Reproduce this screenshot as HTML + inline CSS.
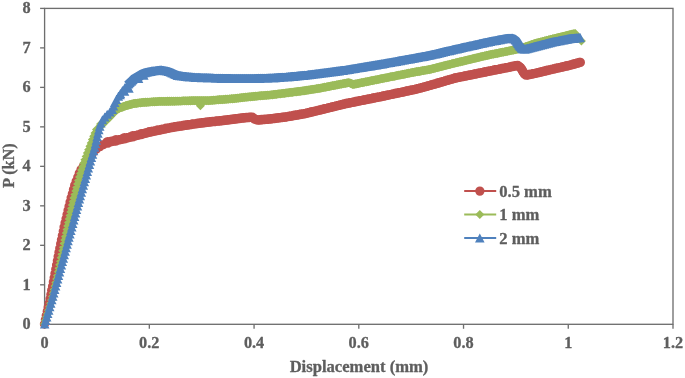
<!DOCTYPE html>
<html><head><meta charset="utf-8"><title>Chart</title>
<style>html,body{margin:0;padding:0;background:#fff;}body{width:685px;height:378px;overflow:hidden;font-family:"Liberation Serif",serif;}svg{display:block;will-change:transform;}</style>
</head><body>
<svg width="685" height="378" viewBox="0 0 685 378">
<rect width="685" height="378" fill="#fff"/>
<g stroke="#6e6e6e" stroke-width="1.33" fill="none">
<rect x="44.6" y="8.4" width="628.4" height="315.90000000000003"/>
<line x1="40.1" y1="324.30" x2="44.6" y2="324.30"/>
<line x1="40.1" y1="284.81" x2="44.6" y2="284.81"/>
<line x1="40.1" y1="245.32" x2="44.6" y2="245.32"/>
<line x1="40.1" y1="205.84" x2="44.6" y2="205.84"/>
<line x1="40.1" y1="166.35" x2="44.6" y2="166.35"/>
<line x1="40.1" y1="126.86" x2="44.6" y2="126.86"/>
<line x1="40.1" y1="87.38" x2="44.6" y2="87.38"/>
<line x1="40.1" y1="47.89" x2="44.6" y2="47.89"/>
<line x1="40.1" y1="8.40" x2="44.6" y2="8.40"/>
<line x1="44.60" y1="324.3" x2="44.60" y2="328.8"/>
<line x1="149.33" y1="324.3" x2="149.33" y2="328.8"/>
<line x1="254.07" y1="324.3" x2="254.07" y2="328.8"/>
<line x1="358.80" y1="324.3" x2="358.80" y2="328.8"/>
<line x1="463.53" y1="324.3" x2="463.53" y2="328.8"/>
<line x1="568.27" y1="324.3" x2="568.27" y2="328.8"/>
<line x1="673.00" y1="324.3" x2="673.00" y2="328.8"/>
</g>
<polyline points="44.4,324.0 49.8,300.0 54.7,275.0 59.4,250.0 64.5,225.0 70.5,200.0 74.8,185.0 80.6,170.0 88.0,160.0 92.5,153.0 96.5,149.0 100.5,146.3 105.0,143.5 110.0,141.8 120.0,139.6 130.6,137.0 140.0,134.6 150.0,132.0 160.0,129.9 170.0,127.8 180.0,126.1 192.5,124.2 210.0,121.9 227.6,120.0 245.0,117.7 252.0,117.1 255.0,119.3 257.8,120.0 270.0,119.0 287.5,116.7 305.0,113.6 320.0,110.0 345.0,103.8 380.0,96.8 415.0,89.4 430.0,85.4 455.0,78.1 490.0,71.0 507.6,67.5 517.5,65.4 521.0,68.0 524.0,73.5 526.3,75.2 535.0,73.4 552.5,69.2 570.0,65.2 580.5,62.2" fill="none" stroke="#C0504D" stroke-width="2" stroke-linejoin="round"/>
<polyline points="106.8,142.9 109.7,141.9 112.6,141.2 115.5,140.6 118.4,139.9 121.4,139.3 124.3,138.5 127.2,137.8 130.1,137.1 133.0,136.4 135.9,135.6 138.8,134.9 141.7,134.1 144.6,133.4 147.5,132.6 150.5,131.9 153.4,131.3 156.3,130.7 159.3,130.1 162.2,129.4 165.1,128.8 168.1,128.2 171.0,127.6 174.0,127.1 176.9,126.6 179.9,126.1 182.8,125.7 185.8,125.2 188.8,124.8 191.7,124.3 194.7,123.9 197.7,123.5 200.7,123.1 203.6,122.7 206.6,122.3 209.6,122.0 212.6,121.6 215.6,121.3 218.5,121.0 221.5,120.7 224.5,120.3 227.5,120.0 230.5,119.6 233.4,119.2 236.4,118.8 239.4,118.4 242.4,118.0 245.3,117.7 248.3,117.4 251.3,117.2 253.9,118.5 256.5,119.7 259.5,119.9 262.5,119.6 265.5,119.4 268.5,119.1 271.4,118.8 274.4,118.4 277.4,118.0 280.4,117.6 283.3,117.2 286.3,116.9 289.3,116.4 292.2,115.9 295.2,115.3 298.1,114.8 301.1,114.3 304.1,113.8 307.0,113.1 309.9,112.4 312.8,111.7 315.7,111.0 318.7,110.3 321.6,109.6 324.5,108.9 327.4,108.2 330.3,107.4 333.2,106.7 336.1,106.0 339.0,105.3 341.9,104.6 344.9,103.8 347.8,103.2 350.7,102.7 353.7,102.1 356.6,101.5 359.6,100.9 362.5,100.3 365.5,99.7 368.4,99.1 371.3,98.5 374.3,97.9 377.2,97.4 380.2,96.8 383.1,96.1 386.0,95.5 389.0,94.9 391.9,94.3 394.8,93.7 397.8,93.0 400.7,92.4 403.6,91.8 406.6,91.2 409.5,90.6 412.4,89.9 415.4,89.3 418.3,88.5 421.2,87.8 424.1,87.0 427.0,86.2 429.9,85.4 432.7,84.6 435.6,83.8 438.5,82.9 441.4,82.1 444.3,81.2 447.1,80.4 450.0,79.6 452.9,78.7 455.8,77.9 458.7,77.3 461.7,76.7 464.6,76.1 467.6,75.6 470.5,75.0 473.4,74.4 476.4,73.8 479.3,73.2 482.3,72.6 485.2,72.0 488.1,71.4 491.1,70.8 494.0,70.2 497.0,69.6 499.9,69.0 502.9,68.4 505.8,67.9 508.7,67.3 511.7,66.6 514.6,66.0 517.5,65.4 519.9,67.2 521.8,69.5 523.2,72.1 525.1,74.3 527.8,74.9 530.8,74.3 533.7,73.7 536.6,73.0 539.5,72.3 542.5,71.6 545.4,70.9 548.3,70.2 551.2,69.5 554.1,68.8 557.1,68.2 560.0,67.5 562.9,66.8 565.8,66.2 568.8,65.5 571.7,64.7 574.5,63.9 577.4,63.1 580.3,62.3 580.3,62.3" fill="none" stroke="#C0504D" stroke-width="9.0" stroke-linejoin="round"/>
<path d="M39.8 324.0a4.65 4.65 0 1 0 9.3 0a4.65 4.65 0 1 0 -9.3 0zM40.7 319.8a4.65 4.65 0 1 0 9.3 0a4.65 4.65 0 1 0 -9.3 0zM41.6 315.6a4.65 4.65 0 1 0 9.3 0a4.65 4.65 0 1 0 -9.3 0zM42.6 311.4a4.65 4.65 0 1 0 9.3 0a4.65 4.65 0 1 0 -9.3 0zM43.5 307.2a4.65 4.65 0 1 0 9.3 0a4.65 4.65 0 1 0 -9.3 0zM44.5 303.0a4.65 4.65 0 1 0 9.3 0a4.65 4.65 0 1 0 -9.3 0zM45.4 298.8a4.65 4.65 0 1 0 9.3 0a4.65 4.65 0 1 0 -9.3 0zM46.2 294.6a4.65 4.65 0 1 0 9.3 0a4.65 4.65 0 1 0 -9.3 0zM47.0 290.4a4.65 4.65 0 1 0 9.3 0a4.65 4.65 0 1 0 -9.3 0zM47.9 286.2a4.65 4.65 0 1 0 9.3 0a4.65 4.65 0 1 0 -9.3 0zM48.7 281.9a4.65 4.65 0 1 0 9.3 0a4.65 4.65 0 1 0 -9.3 0zM49.5 277.7a4.65 4.65 0 1 0 9.3 0a4.65 4.65 0 1 0 -9.3 0zM50.3 273.5a4.65 4.65 0 1 0 9.3 0a4.65 4.65 0 1 0 -9.3 0zM51.1 269.3a4.65 4.65 0 1 0 9.3 0a4.65 4.65 0 1 0 -9.3 0zM51.9 265.0a4.65 4.65 0 1 0 9.3 0a4.65 4.65 0 1 0 -9.3 0zM52.7 260.8a4.65 4.65 0 1 0 9.3 0a4.65 4.65 0 1 0 -9.3 0zM53.5 256.6a4.65 4.65 0 1 0 9.3 0a4.65 4.65 0 1 0 -9.3 0zM54.3 252.4a4.65 4.65 0 1 0 9.3 0a4.65 4.65 0 1 0 -9.3 0zM55.1 248.2a4.65 4.65 0 1 0 9.3 0a4.65 4.65 0 1 0 -9.3 0zM56.0 243.9a4.65 4.65 0 1 0 9.3 0a4.65 4.65 0 1 0 -9.3 0zM56.8 239.7a4.65 4.65 0 1 0 9.3 0a4.65 4.65 0 1 0 -9.3 0zM57.7 235.5a4.65 4.65 0 1 0 9.3 0a4.65 4.65 0 1 0 -9.3 0zM58.6 231.3a4.65 4.65 0 1 0 9.3 0a4.65 4.65 0 1 0 -9.3 0zM59.4 227.1a4.65 4.65 0 1 0 9.3 0a4.65 4.65 0 1 0 -9.3 0zM60.4 222.9a4.65 4.65 0 1 0 9.3 0a4.65 4.65 0 1 0 -9.3 0zM61.4 218.7a4.65 4.65 0 1 0 9.3 0a4.65 4.65 0 1 0 -9.3 0zM62.4 214.5a4.65 4.65 0 1 0 9.3 0a4.65 4.65 0 1 0 -9.3 0zM63.4 210.3a4.65 4.65 0 1 0 9.3 0a4.65 4.65 0 1 0 -9.3 0zM64.4 206.2a4.65 4.65 0 1 0 9.3 0a4.65 4.65 0 1 0 -9.3 0zM65.4 202.0a4.65 4.65 0 1 0 9.3 0a4.65 4.65 0 1 0 -9.3 0zM66.5 197.8a4.65 4.65 0 1 0 9.3 0a4.65 4.65 0 1 0 -9.3 0zM67.7 193.7a4.65 4.65 0 1 0 9.3 0a4.65 4.65 0 1 0 -9.3 0zM68.8 189.6a4.65 4.65 0 1 0 9.3 0a4.65 4.65 0 1 0 -9.3 0zM70.0 185.4a4.65 4.65 0 1 0 9.3 0a4.65 4.65 0 1 0 -9.3 0zM71.5 181.4a4.65 4.65 0 1 0 9.3 0a4.65 4.65 0 1 0 -9.3 0zM73.1 177.4a4.65 4.65 0 1 0 9.3 0a4.65 4.65 0 1 0 -9.3 0zM74.6 173.4a4.65 4.65 0 1 0 9.3 0a4.65 4.65 0 1 0 -9.3 0zM76.4 169.5a4.65 4.65 0 1 0 9.3 0a4.65 4.65 0 1 0 -9.3 0zM78.9 166.0a4.65 4.65 0 1 0 9.3 0a4.65 4.65 0 1 0 -9.3 0zM81.5 162.5a4.65 4.65 0 1 0 9.3 0a4.65 4.65 0 1 0 -9.3 0zM84.0 159.0a4.65 4.65 0 1 0 9.3 0a4.65 4.65 0 1 0 -9.3 0zM86.3 155.4a4.65 4.65 0 1 0 9.3 0a4.65 4.65 0 1 0 -9.3 0zM88.8 152.0a4.65 4.65 0 1 0 9.3 0a4.65 4.65 0 1 0 -9.3 0zM91.9 149.0a4.65 4.65 0 1 0 9.3 0a4.65 4.65 0 1 0 -9.3 0zM95.2 146.7a4.65 4.65 0 1 0 9.3 0a4.65 4.65 0 1 0 -9.3 0zM98.6 144.6a4.65 4.65 0 1 0 9.3 0a4.65 4.65 0 1 0 -9.3 0zM102.2 142.7a4.65 4.65 0 1 0 9.3 0a4.65 4.65 0 1 0 -9.3 0zM103.1 142.7a4.65 4.65 0 1 0 9.3 0a4.65 4.65 0 1 0 -9.3 0zM104.1 142.1a4.65 4.65 0 1 0 9.3 0a4.65 4.65 0 1 0 -9.3 0zM105.0 142.1a4.65 4.65 0 1 0 9.3 0a4.65 4.65 0 1 0 -9.3 0zM106.0 141.5a4.65 4.65 0 1 0 9.3 0a4.65 4.65 0 1 0 -9.3 0zM107.0 141.6a4.65 4.65 0 1 0 9.3 0a4.65 4.65 0 1 0 -9.3 0zM107.9 141.1a4.65 4.65 0 1 0 9.3 0a4.65 4.65 0 1 0 -9.3 0zM108.9 141.2a4.65 4.65 0 1 0 9.3 0a4.65 4.65 0 1 0 -9.3 0zM109.9 140.7a4.65 4.65 0 1 0 9.3 0a4.65 4.65 0 1 0 -9.3 0zM110.9 140.7a4.65 4.65 0 1 0 9.3 0a4.65 4.65 0 1 0 -9.3 0zM111.8 140.2a4.65 4.65 0 1 0 9.3 0a4.65 4.65 0 1 0 -9.3 0zM112.8 140.3a4.65 4.65 0 1 0 9.3 0a4.65 4.65 0 1 0 -9.3 0zM113.8 139.8a4.65 4.65 0 1 0 9.3 0a4.65 4.65 0 1 0 -9.3 0zM114.8 139.9a4.65 4.65 0 1 0 9.3 0a4.65 4.65 0 1 0 -9.3 0zM115.7 139.4a4.65 4.65 0 1 0 9.3 0a4.65 4.65 0 1 0 -9.3 0zM116.7 139.4a4.65 4.65 0 1 0 9.3 0a4.65 4.65 0 1 0 -9.3 0zM117.7 138.9a4.65 4.65 0 1 0 9.3 0a4.65 4.65 0 1 0 -9.3 0zM118.7 138.9a4.65 4.65 0 1 0 9.3 0a4.65 4.65 0 1 0 -9.3 0zM119.6 138.4a4.65 4.65 0 1 0 9.3 0a4.65 4.65 0 1 0 -9.3 0zM120.6 138.5a4.65 4.65 0 1 0 9.3 0a4.65 4.65 0 1 0 -9.3 0zM121.6 137.9a4.65 4.65 0 1 0 9.3 0a4.65 4.65 0 1 0 -9.3 0zM122.5 138.0a4.65 4.65 0 1 0 9.3 0a4.65 4.65 0 1 0 -9.3 0zM123.5 137.4a4.65 4.65 0 1 0 9.3 0a4.65 4.65 0 1 0 -9.3 0zM124.5 137.5a4.65 4.65 0 1 0 9.3 0a4.65 4.65 0 1 0 -9.3 0zM125.5 137.0a4.65 4.65 0 1 0 9.3 0a4.65 4.65 0 1 0 -9.3 0zM126.4 137.0a4.65 4.65 0 1 0 9.3 0a4.65 4.65 0 1 0 -9.3 0zM127.4 136.5a4.65 4.65 0 1 0 9.3 0a4.65 4.65 0 1 0 -9.3 0zM128.4 136.5a4.65 4.65 0 1 0 9.3 0a4.65 4.65 0 1 0 -9.3 0zM129.3 136.0a4.65 4.65 0 1 0 9.3 0a4.65 4.65 0 1 0 -9.3 0zM130.3 136.0a4.65 4.65 0 1 0 9.3 0a4.65 4.65 0 1 0 -9.3 0zM131.3 135.5a4.65 4.65 0 1 0 9.3 0a4.65 4.65 0 1 0 -9.3 0zM132.2 135.5a4.65 4.65 0 1 0 9.3 0a4.65 4.65 0 1 0 -9.3 0zM133.2 135.0a4.65 4.65 0 1 0 9.3 0a4.65 4.65 0 1 0 -9.3 0zM134.2 135.0a4.65 4.65 0 1 0 9.3 0a4.65 4.65 0 1 0 -9.3 0zM135.2 134.5a4.65 4.65 0 1 0 9.3 0a4.65 4.65 0 1 0 -9.3 0zM136.1 134.6a4.65 4.65 0 1 0 9.3 0a4.65 4.65 0 1 0 -9.3 0zM137.1 134.0a4.65 4.65 0 1 0 9.3 0a4.65 4.65 0 1 0 -9.3 0zM138.1 134.0a4.65 4.65 0 1 0 9.3 0a4.65 4.65 0 1 0 -9.3 0zM139.0 133.5a4.65 4.65 0 1 0 9.3 0a4.65 4.65 0 1 0 -9.3 0zM140.0 133.5a4.65 4.65 0 1 0 9.3 0a4.65 4.65 0 1 0 -9.3 0zM141.0 133.0a4.65 4.65 0 1 0 9.3 0a4.65 4.65 0 1 0 -9.3 0zM141.9 133.0a4.65 4.65 0 1 0 9.3 0a4.65 4.65 0 1 0 -9.3 0zM142.9 132.5a4.65 4.65 0 1 0 9.3 0a4.65 4.65 0 1 0 -9.3 0zM143.9 132.5a4.65 4.65 0 1 0 9.3 0a4.65 4.65 0 1 0 -9.3 0zM144.8 132.0a4.65 4.65 0 1 0 9.3 0a4.65 4.65 0 1 0 -9.3 0zM145.8 132.1a4.65 4.65 0 1 0 9.3 0a4.65 4.65 0 1 0 -9.3 0zM146.8 131.5a4.65 4.65 0 1 0 9.3 0a4.65 4.65 0 1 0 -9.3 0zM147.8 131.6a4.65 4.65 0 1 0 9.3 0a4.65 4.65 0 1 0 -9.3 0zM148.7 131.1a4.65 4.65 0 1 0 9.3 0a4.65 4.65 0 1 0 -9.3 0zM149.7 131.2a4.65 4.65 0 1 0 9.3 0a4.65 4.65 0 1 0 -9.3 0zM150.7 130.7a4.65 4.65 0 1 0 9.3 0a4.65 4.65 0 1 0 -9.3 0zM151.7 130.8a4.65 4.65 0 1 0 9.3 0a4.65 4.65 0 1 0 -9.3 0zM152.7 130.3a4.65 4.65 0 1 0 9.3 0a4.65 4.65 0 1 0 -9.3 0zM153.6 130.4a4.65 4.65 0 1 0 9.3 0a4.65 4.65 0 1 0 -9.3 0zM154.6 129.9a4.65 4.65 0 1 0 9.3 0a4.65 4.65 0 1 0 -9.3 0zM155.6 130.0a4.65 4.65 0 1 0 9.3 0a4.65 4.65 0 1 0 -9.3 0zM156.6 129.5a4.65 4.65 0 1 0 9.3 0a4.65 4.65 0 1 0 -9.3 0zM157.5 129.6a4.65 4.65 0 1 0 9.3 0a4.65 4.65 0 1 0 -9.3 0zM158.5 129.1a4.65 4.65 0 1 0 9.3 0a4.65 4.65 0 1 0 -9.3 0zM159.5 129.2a4.65 4.65 0 1 0 9.3 0a4.65 4.65 0 1 0 -9.3 0zM160.5 128.7a4.65 4.65 0 1 0 9.3 0a4.65 4.65 0 1 0 -9.3 0zM161.5 128.8a4.65 4.65 0 1 0 9.3 0a4.65 4.65 0 1 0 -9.3 0zM162.4 128.3a4.65 4.65 0 1 0 9.3 0a4.65 4.65 0 1 0 -9.3 0zM163.4 128.4a4.65 4.65 0 1 0 9.3 0a4.65 4.65 0 1 0 -9.3 0zM164.4 127.9a4.65 4.65 0 1 0 9.3 0a4.65 4.65 0 1 0 -9.3 0zM165.4 127.9a4.65 4.65 0 1 0 9.3 0a4.65 4.65 0 1 0 -9.3 0zM166.4 127.5a4.65 4.65 0 1 0 9.3 0a4.65 4.65 0 1 0 -9.3 0zM167.3 127.6a4.65 4.65 0 1 0 9.3 0a4.65 4.65 0 1 0 -9.3 0zM168.3 127.1a4.65 4.65 0 1 0 9.3 0a4.65 4.65 0 1 0 -9.3 0zM169.3 127.3a4.65 4.65 0 1 0 9.3 0a4.65 4.65 0 1 0 -9.3 0zM170.3 126.8a4.65 4.65 0 1 0 9.3 0a4.65 4.65 0 1 0 -9.3 0zM171.3 126.9a4.65 4.65 0 1 0 9.3 0a4.65 4.65 0 1 0 -9.3 0zM172.3 126.5a4.65 4.65 0 1 0 9.3 0a4.65 4.65 0 1 0 -9.3 0zM173.3 126.6a4.65 4.65 0 1 0 9.3 0a4.65 4.65 0 1 0 -9.3 0zM174.2 126.1a4.65 4.65 0 1 0 9.3 0a4.65 4.65 0 1 0 -9.3 0zM175.2 126.3a4.65 4.65 0 1 0 9.3 0a4.65 4.65 0 1 0 -9.3 0zM176.2 125.8a4.65 4.65 0 1 0 9.3 0a4.65 4.65 0 1 0 -9.3 0zM177.2 126.0a4.65 4.65 0 1 0 9.3 0a4.65 4.65 0 1 0 -9.3 0zM178.2 125.5a4.65 4.65 0 1 0 9.3 0a4.65 4.65 0 1 0 -9.3 0zM179.2 125.7a4.65 4.65 0 1 0 9.3 0a4.65 4.65 0 1 0 -9.3 0zM180.2 125.2a4.65 4.65 0 1 0 9.3 0a4.65 4.65 0 1 0 -9.3 0zM181.2 125.4a4.65 4.65 0 1 0 9.3 0a4.65 4.65 0 1 0 -9.3 0zM182.2 124.9a4.65 4.65 0 1 0 9.3 0a4.65 4.65 0 1 0 -9.3 0zM183.1 125.1a4.65 4.65 0 1 0 9.3 0a4.65 4.65 0 1 0 -9.3 0zM184.1 124.6a4.65 4.65 0 1 0 9.3 0a4.65 4.65 0 1 0 -9.3 0zM185.1 124.8a4.65 4.65 0 1 0 9.3 0a4.65 4.65 0 1 0 -9.3 0zM186.1 124.3a4.65 4.65 0 1 0 9.3 0a4.65 4.65 0 1 0 -9.3 0zM187.1 124.5a4.65 4.65 0 1 0 9.3 0a4.65 4.65 0 1 0 -9.3 0zM188.1 124.0a4.65 4.65 0 1 0 9.3 0a4.65 4.65 0 1 0 -9.3 0zM189.1 124.2a4.65 4.65 0 1 0 9.3 0a4.65 4.65 0 1 0 -9.3 0zM190.1 123.8a4.65 4.65 0 1 0 9.3 0a4.65 4.65 0 1 0 -9.3 0zM191.1 123.9a4.65 4.65 0 1 0 9.3 0a4.65 4.65 0 1 0 -9.3 0zM192.1 123.5a4.65 4.65 0 1 0 9.3 0a4.65 4.65 0 1 0 -9.3 0zM193.0 123.7a4.65 4.65 0 1 0 9.3 0a4.65 4.65 0 1 0 -9.3 0zM194.0 123.2a4.65 4.65 0 1 0 9.3 0a4.65 4.65 0 1 0 -9.3 0zM195.0 123.4a4.65 4.65 0 1 0 9.3 0a4.65 4.65 0 1 0 -9.3 0zM196.0 123.0a4.65 4.65 0 1 0 9.3 0a4.65 4.65 0 1 0 -9.3 0zM197.0 123.1a4.65 4.65 0 1 0 9.3 0a4.65 4.65 0 1 0 -9.3 0zM198.0 122.7a4.65 4.65 0 1 0 9.3 0a4.65 4.65 0 1 0 -9.3 0zM199.0 122.9a4.65 4.65 0 1 0 9.3 0a4.65 4.65 0 1 0 -9.3 0zM200.0 122.5a4.65 4.65 0 1 0 9.3 0a4.65 4.65 0 1 0 -9.3 0zM201.0 122.6a4.65 4.65 0 1 0 9.3 0a4.65 4.65 0 1 0 -9.3 0zM202.0 122.2a4.65 4.65 0 1 0 9.3 0a4.65 4.65 0 1 0 -9.3 0zM203.0 122.4a4.65 4.65 0 1 0 9.3 0a4.65 4.65 0 1 0 -9.3 0zM204.0 121.9a4.65 4.65 0 1 0 9.3 0a4.65 4.65 0 1 0 -9.3 0zM204.9 122.1a4.65 4.65 0 1 0 9.3 0a4.65 4.65 0 1 0 -9.3 0zM205.9 121.7a4.65 4.65 0 1 0 9.3 0a4.65 4.65 0 1 0 -9.3 0zM206.9 121.9a4.65 4.65 0 1 0 9.3 0a4.65 4.65 0 1 0 -9.3 0zM207.9 121.5a4.65 4.65 0 1 0 9.3 0a4.65 4.65 0 1 0 -9.3 0zM208.9 121.7a4.65 4.65 0 1 0 9.3 0a4.65 4.65 0 1 0 -9.3 0zM209.9 121.3a4.65 4.65 0 1 0 9.3 0a4.65 4.65 0 1 0 -9.3 0zM210.9 121.5a4.65 4.65 0 1 0 9.3 0a4.65 4.65 0 1 0 -9.3 0zM211.9 121.0a4.65 4.65 0 1 0 9.3 0a4.65 4.65 0 1 0 -9.3 0zM212.9 121.2a4.65 4.65 0 1 0 9.3 0a4.65 4.65 0 1 0 -9.3 0zM213.9 120.8a4.65 4.65 0 1 0 9.3 0a4.65 4.65 0 1 0 -9.3 0zM214.9 121.0a4.65 4.65 0 1 0 9.3 0a4.65 4.65 0 1 0 -9.3 0zM215.9 120.6a4.65 4.65 0 1 0 9.3 0a4.65 4.65 0 1 0 -9.3 0zM216.9 120.8a4.65 4.65 0 1 0 9.3 0a4.65 4.65 0 1 0 -9.3 0zM217.9 120.4a4.65 4.65 0 1 0 9.3 0a4.65 4.65 0 1 0 -9.3 0zM218.9 120.6a4.65 4.65 0 1 0 9.3 0a4.65 4.65 0 1 0 -9.3 0zM219.9 120.2a4.65 4.65 0 1 0 9.3 0a4.65 4.65 0 1 0 -9.3 0zM220.8 120.4a4.65 4.65 0 1 0 9.3 0a4.65 4.65 0 1 0 -9.3 0zM221.8 120.0a4.65 4.65 0 1 0 9.3 0a4.65 4.65 0 1 0 -9.3 0zM222.8 120.2a4.65 4.65 0 1 0 9.3 0a4.65 4.65 0 1 0 -9.3 0zM223.8 119.7a4.65 4.65 0 1 0 9.3 0a4.65 4.65 0 1 0 -9.3 0zM224.8 119.9a4.65 4.65 0 1 0 9.3 0a4.65 4.65 0 1 0 -9.3 0zM225.8 119.5a4.65 4.65 0 1 0 9.3 0a4.65 4.65 0 1 0 -9.3 0zM226.8 119.6a4.65 4.65 0 1 0 9.3 0a4.65 4.65 0 1 0 -9.3 0zM227.8 119.2a4.65 4.65 0 1 0 9.3 0a4.65 4.65 0 1 0 -9.3 0zM228.8 119.4a4.65 4.65 0 1 0 9.3 0a4.65 4.65 0 1 0 -9.3 0zM229.8 118.9a4.65 4.65 0 1 0 9.3 0a4.65 4.65 0 1 0 -9.3 0zM230.8 119.1a4.65 4.65 0 1 0 9.3 0a4.65 4.65 0 1 0 -9.3 0zM231.8 118.7a4.65 4.65 0 1 0 9.3 0a4.65 4.65 0 1 0 -9.3 0zM232.8 118.9a4.65 4.65 0 1 0 9.3 0a4.65 4.65 0 1 0 -9.3 0zM233.7 118.4a4.65 4.65 0 1 0 9.3 0a4.65 4.65 0 1 0 -9.3 0zM234.7 118.6a4.65 4.65 0 1 0 9.3 0a4.65 4.65 0 1 0 -9.3 0zM235.7 118.2a4.65 4.65 0 1 0 9.3 0a4.65 4.65 0 1 0 -9.3 0zM236.7 118.3a4.65 4.65 0 1 0 9.3 0a4.65 4.65 0 1 0 -9.3 0zM237.7 117.9a4.65 4.65 0 1 0 9.3 0a4.65 4.65 0 1 0 -9.3 0zM238.7 118.1a4.65 4.65 0 1 0 9.3 0a4.65 4.65 0 1 0 -9.3 0zM239.7 117.6a4.65 4.65 0 1 0 9.3 0a4.65 4.65 0 1 0 -9.3 0zM240.7 117.8a4.65 4.65 0 1 0 9.3 0a4.65 4.65 0 1 0 -9.3 0zM241.7 117.4a4.65 4.65 0 1 0 9.3 0a4.65 4.65 0 1 0 -9.3 0zM242.7 117.7a4.65 4.65 0 1 0 9.3 0a4.65 4.65 0 1 0 -9.3 0zM243.7 117.3a4.65 4.65 0 1 0 9.3 0a4.65 4.65 0 1 0 -9.3 0zM244.7 117.5a4.65 4.65 0 1 0 9.3 0a4.65 4.65 0 1 0 -9.3 0zM245.7 117.1a4.65 4.65 0 1 0 9.3 0a4.65 4.65 0 1 0 -9.3 0zM246.7 117.3a4.65 4.65 0 1 0 9.3 0a4.65 4.65 0 1 0 -9.3 0zM247.6 117.1a4.65 4.65 0 1 0 9.3 0a4.65 4.65 0 1 0 -9.3 0zM248.4 118.0a4.65 4.65 0 1 0 9.3 0a4.65 4.65 0 1 0 -9.3 0zM249.2 118.3a4.65 4.65 0 1 0 9.3 0a4.65 4.65 0 1 0 -9.3 0zM250.0 119.2a4.65 4.65 0 1 0 9.3 0a4.65 4.65 0 1 0 -9.3 0zM250.9 119.3a4.65 4.65 0 1 0 9.3 0a4.65 4.65 0 1 0 -9.3 0zM251.9 119.8a4.65 4.65 0 1 0 9.3 0a4.65 4.65 0 1 0 -9.3 0zM252.9 119.8a4.65 4.65 0 1 0 9.3 0a4.65 4.65 0 1 0 -9.3 0zM253.9 120.1a4.65 4.65 0 1 0 9.3 0a4.65 4.65 0 1 0 -9.3 0zM254.8 119.7a4.65 4.65 0 1 0 9.3 0a4.65 4.65 0 1 0 -9.3 0zM255.8 119.9a4.65 4.65 0 1 0 9.3 0a4.65 4.65 0 1 0 -9.3 0zM256.8 119.5a4.65 4.65 0 1 0 9.3 0a4.65 4.65 0 1 0 -9.3 0zM257.8 119.8a4.65 4.65 0 1 0 9.3 0a4.65 4.65 0 1 0 -9.3 0zM258.8 119.4a4.65 4.65 0 1 0 9.3 0a4.65 4.65 0 1 0 -9.3 0zM259.8 119.6a4.65 4.65 0 1 0 9.3 0a4.65 4.65 0 1 0 -9.3 0zM260.8 119.2a4.65 4.65 0 1 0 9.3 0a4.65 4.65 0 1 0 -9.3 0zM261.8 119.4a4.65 4.65 0 1 0 9.3 0a4.65 4.65 0 1 0 -9.3 0zM262.8 119.1a4.65 4.65 0 1 0 9.3 0a4.65 4.65 0 1 0 -9.3 0zM263.8 119.3a4.65 4.65 0 1 0 9.3 0a4.65 4.65 0 1 0 -9.3 0zM264.8 118.9a4.65 4.65 0 1 0 9.3 0a4.65 4.65 0 1 0 -9.3 0zM265.8 119.1a4.65 4.65 0 1 0 9.3 0a4.65 4.65 0 1 0 -9.3 0zM266.8 118.7a4.65 4.65 0 1 0 9.3 0a4.65 4.65 0 1 0 -9.3 0zM267.8 118.8a4.65 4.65 0 1 0 9.3 0a4.65 4.65 0 1 0 -9.3 0zM268.8 118.4a4.65 4.65 0 1 0 9.3 0a4.65 4.65 0 1 0 -9.3 0zM269.8 118.6a4.65 4.65 0 1 0 9.3 0a4.65 4.65 0 1 0 -9.3 0zM270.8 118.1a4.65 4.65 0 1 0 9.3 0a4.65 4.65 0 1 0 -9.3 0zM271.8 118.3a4.65 4.65 0 1 0 9.3 0a4.65 4.65 0 1 0 -9.3 0zM272.7 117.9a4.65 4.65 0 1 0 9.3 0a4.65 4.65 0 1 0 -9.3 0zM273.7 118.0a4.65 4.65 0 1 0 9.3 0a4.65 4.65 0 1 0 -9.3 0zM274.7 117.6a4.65 4.65 0 1 0 9.3 0a4.65 4.65 0 1 0 -9.3 0zM275.7 117.8a4.65 4.65 0 1 0 9.3 0a4.65 4.65 0 1 0 -9.3 0zM276.7 117.4a4.65 4.65 0 1 0 9.3 0a4.65 4.65 0 1 0 -9.3 0zM277.7 117.5a4.65 4.65 0 1 0 9.3 0a4.65 4.65 0 1 0 -9.3 0zM278.7 117.1a4.65 4.65 0 1 0 9.3 0a4.65 4.65 0 1 0 -9.3 0zM279.7 117.3a4.65 4.65 0 1 0 9.3 0a4.65 4.65 0 1 0 -9.3 0zM280.7 116.8a4.65 4.65 0 1 0 9.3 0a4.65 4.65 0 1 0 -9.3 0zM281.7 117.0a4.65 4.65 0 1 0 9.3 0a4.65 4.65 0 1 0 -9.3 0zM282.7 116.6a4.65 4.65 0 1 0 9.3 0a4.65 4.65 0 1 0 -9.3 0zM283.6 116.7a4.65 4.65 0 1 0 9.3 0a4.65 4.65 0 1 0 -9.3 0zM284.6 116.2a4.65 4.65 0 1 0 9.3 0a4.65 4.65 0 1 0 -9.3 0zM285.6 116.4a4.65 4.65 0 1 0 9.3 0a4.65 4.65 0 1 0 -9.3 0zM286.6 115.9a4.65 4.65 0 1 0 9.3 0a4.65 4.65 0 1 0 -9.3 0zM287.6 116.0a4.65 4.65 0 1 0 9.3 0a4.65 4.65 0 1 0 -9.3 0zM288.6 115.5a4.65 4.65 0 1 0 9.3 0a4.65 4.65 0 1 0 -9.3 0zM289.6 115.7a4.65 4.65 0 1 0 9.3 0a4.65 4.65 0 1 0 -9.3 0zM290.5 115.2a4.65 4.65 0 1 0 9.3 0a4.65 4.65 0 1 0 -9.3 0zM291.5 115.3a4.65 4.65 0 1 0 9.3 0a4.65 4.65 0 1 0 -9.3 0zM292.5 114.8a4.65 4.65 0 1 0 9.3 0a4.65 4.65 0 1 0 -9.3 0zM293.5 115.0a4.65 4.65 0 1 0 9.3 0a4.65 4.65 0 1 0 -9.3 0zM294.5 114.5a4.65 4.65 0 1 0 9.3 0a4.65 4.65 0 1 0 -9.3 0zM295.5 114.6a4.65 4.65 0 1 0 9.3 0a4.65 4.65 0 1 0 -9.3 0zM296.4 114.1a4.65 4.65 0 1 0 9.3 0a4.65 4.65 0 1 0 -9.3 0zM297.4 114.3a4.65 4.65 0 1 0 9.3 0a4.65 4.65 0 1 0 -9.3 0zM298.4 113.8a4.65 4.65 0 1 0 9.3 0a4.65 4.65 0 1 0 -9.3 0zM299.4 113.9a4.65 4.65 0 1 0 9.3 0a4.65 4.65 0 1 0 -9.3 0zM300.4 113.4a4.65 4.65 0 1 0 9.3 0a4.65 4.65 0 1 0 -9.3 0zM301.4 113.5a4.65 4.65 0 1 0 9.3 0a4.65 4.65 0 1 0 -9.3 0zM302.3 113.0a4.65 4.65 0 1 0 9.3 0a4.65 4.65 0 1 0 -9.3 0zM303.3 113.0a4.65 4.65 0 1 0 9.3 0a4.65 4.65 0 1 0 -9.3 0zM304.3 112.5a4.65 4.65 0 1 0 9.3 0a4.65 4.65 0 1 0 -9.3 0zM305.2 112.6a4.65 4.65 0 1 0 9.3 0a4.65 4.65 0 1 0 -9.3 0zM306.2 112.0a4.65 4.65 0 1 0 9.3 0a4.65 4.65 0 1 0 -9.3 0zM307.2 112.1a4.65 4.65 0 1 0 9.3 0a4.65 4.65 0 1 0 -9.3 0zM308.2 111.6a4.65 4.65 0 1 0 9.3 0a4.65 4.65 0 1 0 -9.3 0zM309.1 111.6a4.65 4.65 0 1 0 9.3 0a4.65 4.65 0 1 0 -9.3 0zM310.1 111.1a4.65 4.65 0 1 0 9.3 0a4.65 4.65 0 1 0 -9.3 0zM311.1 111.2a4.65 4.65 0 1 0 9.3 0a4.65 4.65 0 1 0 -9.3 0zM312.1 110.6a4.65 4.65 0 1 0 9.3 0a4.65 4.65 0 1 0 -9.3 0zM313.0 110.7a4.65 4.65 0 1 0 9.3 0a4.65 4.65 0 1 0 -9.3 0zM314.0 110.2a4.65 4.65 0 1 0 9.3 0a4.65 4.65 0 1 0 -9.3 0zM315.0 110.2a4.65 4.65 0 1 0 9.3 0a4.65 4.65 0 1 0 -9.3 0zM315.9 109.7a4.65 4.65 0 1 0 9.3 0a4.65 4.65 0 1 0 -9.3 0zM316.9 109.8a4.65 4.65 0 1 0 9.3 0a4.65 4.65 0 1 0 -9.3 0zM317.9 109.2a4.65 4.65 0 1 0 9.3 0a4.65 4.65 0 1 0 -9.3 0zM318.9 109.3a4.65 4.65 0 1 0 9.3 0a4.65 4.65 0 1 0 -9.3 0zM319.8 108.7a4.65 4.65 0 1 0 9.3 0a4.65 4.65 0 1 0 -9.3 0zM320.8 108.8a4.65 4.65 0 1 0 9.3 0a4.65 4.65 0 1 0 -9.3 0zM321.8 108.3a4.65 4.65 0 1 0 9.3 0a4.65 4.65 0 1 0 -9.3 0zM322.7 108.3a4.65 4.65 0 1 0 9.3 0a4.65 4.65 0 1 0 -9.3 0zM323.7 107.8a4.65 4.65 0 1 0 9.3 0a4.65 4.65 0 1 0 -9.3 0zM324.7 107.8a4.65 4.65 0 1 0 9.3 0a4.65 4.65 0 1 0 -9.3 0zM325.7 107.3a4.65 4.65 0 1 0 9.3 0a4.65 4.65 0 1 0 -9.3 0zM326.6 107.4a4.65 4.65 0 1 0 9.3 0a4.65 4.65 0 1 0 -9.3 0zM327.6 106.8a4.65 4.65 0 1 0 9.3 0a4.65 4.65 0 1 0 -9.3 0zM328.6 106.9a4.65 4.65 0 1 0 9.3 0a4.65 4.65 0 1 0 -9.3 0zM329.5 106.3a4.65 4.65 0 1 0 9.3 0a4.65 4.65 0 1 0 -9.3 0zM330.5 106.4a4.65 4.65 0 1 0 9.3 0a4.65 4.65 0 1 0 -9.3 0zM331.5 105.9a4.65 4.65 0 1 0 9.3 0a4.65 4.65 0 1 0 -9.3 0zM332.4 105.9a4.65 4.65 0 1 0 9.3 0a4.65 4.65 0 1 0 -9.3 0zM333.4 105.4a4.65 4.65 0 1 0 9.3 0a4.65 4.65 0 1 0 -9.3 0zM334.4 105.4a4.65 4.65 0 1 0 9.3 0a4.65 4.65 0 1 0 -9.3 0zM335.4 104.9a4.65 4.65 0 1 0 9.3 0a4.65 4.65 0 1 0 -9.3 0zM336.3 104.9a4.65 4.65 0 1 0 9.3 0a4.65 4.65 0 1 0 -9.3 0zM337.3 104.4a4.65 4.65 0 1 0 9.3 0a4.65 4.65 0 1 0 -9.3 0zM338.3 104.5a4.65 4.65 0 1 0 9.3 0a4.65 4.65 0 1 0 -9.3 0zM339.2 103.9a4.65 4.65 0 1 0 9.3 0a4.65 4.65 0 1 0 -9.3 0zM340.2 104.0a4.65 4.65 0 1 0 9.3 0a4.65 4.65 0 1 0 -9.3 0zM341.2 103.5a4.65 4.65 0 1 0 9.3 0a4.65 4.65 0 1 0 -9.3 0zM342.2 103.6a4.65 4.65 0 1 0 9.3 0a4.65 4.65 0 1 0 -9.3 0zM343.1 103.1a4.65 4.65 0 1 0 9.3 0a4.65 4.65 0 1 0 -9.3 0zM344.1 103.2a4.65 4.65 0 1 0 9.3 0a4.65 4.65 0 1 0 -9.3 0zM345.1 102.7a4.65 4.65 0 1 0 9.3 0a4.65 4.65 0 1 0 -9.3 0zM346.1 102.8a4.65 4.65 0 1 0 9.3 0a4.65 4.65 0 1 0 -9.3 0zM347.1 102.3a4.65 4.65 0 1 0 9.3 0a4.65 4.65 0 1 0 -9.3 0zM348.1 102.4a4.65 4.65 0 1 0 9.3 0a4.65 4.65 0 1 0 -9.3 0zM349.0 101.9a4.65 4.65 0 1 0 9.3 0a4.65 4.65 0 1 0 -9.3 0zM350.0 102.0a4.65 4.65 0 1 0 9.3 0a4.65 4.65 0 1 0 -9.3 0zM351.0 101.5a4.65 4.65 0 1 0 9.3 0a4.65 4.65 0 1 0 -9.3 0zM352.0 101.6a4.65 4.65 0 1 0 9.3 0a4.65 4.65 0 1 0 -9.3 0zM353.0 101.1a4.65 4.65 0 1 0 9.3 0a4.65 4.65 0 1 0 -9.3 0zM353.9 101.2a4.65 4.65 0 1 0 9.3 0a4.65 4.65 0 1 0 -9.3 0zM354.9 100.7a4.65 4.65 0 1 0 9.3 0a4.65 4.65 0 1 0 -9.3 0zM355.9 100.8a4.65 4.65 0 1 0 9.3 0a4.65 4.65 0 1 0 -9.3 0zM356.9 100.3a4.65 4.65 0 1 0 9.3 0a4.65 4.65 0 1 0 -9.3 0zM357.9 100.4a4.65 4.65 0 1 0 9.3 0a4.65 4.65 0 1 0 -9.3 0zM358.8 100.0a4.65 4.65 0 1 0 9.3 0a4.65 4.65 0 1 0 -9.3 0zM359.8 100.1a4.65 4.65 0 1 0 9.3 0a4.65 4.65 0 1 0 -9.3 0zM360.8 99.6a4.65 4.65 0 1 0 9.3 0a4.65 4.65 0 1 0 -9.3 0zM361.8 99.7a4.65 4.65 0 1 0 9.3 0a4.65 4.65 0 1 0 -9.3 0zM362.8 99.2a4.65 4.65 0 1 0 9.3 0a4.65 4.65 0 1 0 -9.3 0zM363.7 99.3a4.65 4.65 0 1 0 9.3 0a4.65 4.65 0 1 0 -9.3 0zM364.7 98.8a4.65 4.65 0 1 0 9.3 0a4.65 4.65 0 1 0 -9.3 0zM365.7 98.9a4.65 4.65 0 1 0 9.3 0a4.65 4.65 0 1 0 -9.3 0zM366.7 98.4a4.65 4.65 0 1 0 9.3 0a4.65 4.65 0 1 0 -9.3 0zM367.7 98.5a4.65 4.65 0 1 0 9.3 0a4.65 4.65 0 1 0 -9.3 0zM368.6 98.0a4.65 4.65 0 1 0 9.3 0a4.65 4.65 0 1 0 -9.3 0zM369.6 98.1a4.65 4.65 0 1 0 9.3 0a4.65 4.65 0 1 0 -9.3 0zM370.6 97.6a4.65 4.65 0 1 0 9.3 0a4.65 4.65 0 1 0 -9.3 0zM371.6 97.7a4.65 4.65 0 1 0 9.3 0a4.65 4.65 0 1 0 -9.3 0zM372.6 97.2a4.65 4.65 0 1 0 9.3 0a4.65 4.65 0 1 0 -9.3 0zM373.5 97.3a4.65 4.65 0 1 0 9.3 0a4.65 4.65 0 1 0 -9.3 0zM374.5 96.8a4.65 4.65 0 1 0 9.3 0a4.65 4.65 0 1 0 -9.3 0zM375.5 96.9a4.65 4.65 0 1 0 9.3 0a4.65 4.65 0 1 0 -9.3 0zM376.5 96.4a4.65 4.65 0 1 0 9.3 0a4.65 4.65 0 1 0 -9.3 0zM377.5 96.5a4.65 4.65 0 1 0 9.3 0a4.65 4.65 0 1 0 -9.3 0zM378.4 96.0a4.65 4.65 0 1 0 9.3 0a4.65 4.65 0 1 0 -9.3 0zM379.4 96.1a4.65 4.65 0 1 0 9.3 0a4.65 4.65 0 1 0 -9.3 0zM380.4 95.6a4.65 4.65 0 1 0 9.3 0a4.65 4.65 0 1 0 -9.3 0zM381.4 95.7a4.65 4.65 0 1 0 9.3 0a4.65 4.65 0 1 0 -9.3 0zM382.4 95.2a4.65 4.65 0 1 0 9.3 0a4.65 4.65 0 1 0 -9.3 0zM383.3 95.3a4.65 4.65 0 1 0 9.3 0a4.65 4.65 0 1 0 -9.3 0zM384.3 94.8a4.65 4.65 0 1 0 9.3 0a4.65 4.65 0 1 0 -9.3 0zM385.3 94.8a4.65 4.65 0 1 0 9.3 0a4.65 4.65 0 1 0 -9.3 0zM386.3 94.3a4.65 4.65 0 1 0 9.3 0a4.65 4.65 0 1 0 -9.3 0zM387.2 94.4a4.65 4.65 0 1 0 9.3 0a4.65 4.65 0 1 0 -9.3 0zM388.2 93.9a4.65 4.65 0 1 0 9.3 0a4.65 4.65 0 1 0 -9.3 0zM389.2 94.0a4.65 4.65 0 1 0 9.3 0a4.65 4.65 0 1 0 -9.3 0zM390.2 93.5a4.65 4.65 0 1 0 9.3 0a4.65 4.65 0 1 0 -9.3 0zM391.2 93.6a4.65 4.65 0 1 0 9.3 0a4.65 4.65 0 1 0 -9.3 0zM392.1 93.1a4.65 4.65 0 1 0 9.3 0a4.65 4.65 0 1 0 -9.3 0zM393.1 93.2a4.65 4.65 0 1 0 9.3 0a4.65 4.65 0 1 0 -9.3 0zM394.1 92.7a4.65 4.65 0 1 0 9.3 0a4.65 4.65 0 1 0 -9.3 0zM395.1 92.8a4.65 4.65 0 1 0 9.3 0a4.65 4.65 0 1 0 -9.3 0zM396.1 92.3a4.65 4.65 0 1 0 9.3 0a4.65 4.65 0 1 0 -9.3 0zM397.0 92.4a4.65 4.65 0 1 0 9.3 0a4.65 4.65 0 1 0 -9.3 0zM398.0 91.9a4.65 4.65 0 1 0 9.3 0a4.65 4.65 0 1 0 -9.3 0zM399.0 92.0a4.65 4.65 0 1 0 9.3 0a4.65 4.65 0 1 0 -9.3 0zM400.0 91.4a4.65 4.65 0 1 0 9.3 0a4.65 4.65 0 1 0 -9.3 0zM400.9 91.5a4.65 4.65 0 1 0 9.3 0a4.65 4.65 0 1 0 -9.3 0zM401.9 91.0a4.65 4.65 0 1 0 9.3 0a4.65 4.65 0 1 0 -9.3 0zM402.9 91.1a4.65 4.65 0 1 0 9.3 0a4.65 4.65 0 1 0 -9.3 0zM403.9 90.6a4.65 4.65 0 1 0 9.3 0a4.65 4.65 0 1 0 -9.3 0zM404.9 90.7a4.65 4.65 0 1 0 9.3 0a4.65 4.65 0 1 0 -9.3 0zM405.8 90.2a4.65 4.65 0 1 0 9.3 0a4.65 4.65 0 1 0 -9.3 0zM406.8 90.3a4.65 4.65 0 1 0 9.3 0a4.65 4.65 0 1 0 -9.3 0zM407.8 89.8a4.65 4.65 0 1 0 9.3 0a4.65 4.65 0 1 0 -9.3 0zM408.8 89.9a4.65 4.65 0 1 0 9.3 0a4.65 4.65 0 1 0 -9.3 0zM409.8 89.4a4.65 4.65 0 1 0 9.3 0a4.65 4.65 0 1 0 -9.3 0zM410.7 89.4a4.65 4.65 0 1 0 9.3 0a4.65 4.65 0 1 0 -9.3 0zM411.7 88.9a4.65 4.65 0 1 0 9.3 0a4.65 4.65 0 1 0 -9.3 0zM412.7 88.9a4.65 4.65 0 1 0 9.3 0a4.65 4.65 0 1 0 -9.3 0zM413.6 88.4a4.65 4.65 0 1 0 9.3 0a4.65 4.65 0 1 0 -9.3 0zM414.6 88.4a4.65 4.65 0 1 0 9.3 0a4.65 4.65 0 1 0 -9.3 0zM415.6 87.9a4.65 4.65 0 1 0 9.3 0a4.65 4.65 0 1 0 -9.3 0zM416.5 87.9a4.65 4.65 0 1 0 9.3 0a4.65 4.65 0 1 0 -9.3 0zM417.5 87.3a4.65 4.65 0 1 0 9.3 0a4.65 4.65 0 1 0 -9.3 0zM418.5 87.4a4.65 4.65 0 1 0 9.3 0a4.65 4.65 0 1 0 -9.3 0zM419.4 86.8a4.65 4.65 0 1 0 9.3 0a4.65 4.65 0 1 0 -9.3 0zM420.4 86.9a4.65 4.65 0 1 0 9.3 0a4.65 4.65 0 1 0 -9.3 0zM421.4 86.3a4.65 4.65 0 1 0 9.3 0a4.65 4.65 0 1 0 -9.3 0zM422.3 86.4a4.65 4.65 0 1 0 9.3 0a4.65 4.65 0 1 0 -9.3 0zM423.3 85.8a4.65 4.65 0 1 0 9.3 0a4.65 4.65 0 1 0 -9.3 0zM424.3 85.8a4.65 4.65 0 1 0 9.3 0a4.65 4.65 0 1 0 -9.3 0zM425.2 85.3a4.65 4.65 0 1 0 9.3 0a4.65 4.65 0 1 0 -9.3 0zM426.2 85.3a4.65 4.65 0 1 0 9.3 0a4.65 4.65 0 1 0 -9.3 0zM427.1 84.7a4.65 4.65 0 1 0 9.3 0a4.65 4.65 0 1 0 -9.3 0zM428.1 84.7a4.65 4.65 0 1 0 9.3 0a4.65 4.65 0 1 0 -9.3 0zM429.1 84.2a4.65 4.65 0 1 0 9.3 0a4.65 4.65 0 1 0 -9.3 0zM430.0 84.2a4.65 4.65 0 1 0 9.3 0a4.65 4.65 0 1 0 -9.3 0zM431.0 83.6a4.65 4.65 0 1 0 9.3 0a4.65 4.65 0 1 0 -9.3 0zM431.9 83.6a4.65 4.65 0 1 0 9.3 0a4.65 4.65 0 1 0 -9.3 0zM432.9 83.0a4.65 4.65 0 1 0 9.3 0a4.65 4.65 0 1 0 -9.3 0zM433.9 83.1a4.65 4.65 0 1 0 9.3 0a4.65 4.65 0 1 0 -9.3 0zM434.8 82.5a4.65 4.65 0 1 0 9.3 0a4.65 4.65 0 1 0 -9.3 0zM435.8 82.5a4.65 4.65 0 1 0 9.3 0a4.65 4.65 0 1 0 -9.3 0zM436.7 81.9a4.65 4.65 0 1 0 9.3 0a4.65 4.65 0 1 0 -9.3 0zM437.7 81.9a4.65 4.65 0 1 0 9.3 0a4.65 4.65 0 1 0 -9.3 0zM438.7 81.4a4.65 4.65 0 1 0 9.3 0a4.65 4.65 0 1 0 -9.3 0zM439.6 81.4a4.65 4.65 0 1 0 9.3 0a4.65 4.65 0 1 0 -9.3 0zM440.6 80.8a4.65 4.65 0 1 0 9.3 0a4.65 4.65 0 1 0 -9.3 0zM441.5 80.8a4.65 4.65 0 1 0 9.3 0a4.65 4.65 0 1 0 -9.3 0zM442.5 80.2a4.65 4.65 0 1 0 9.3 0a4.65 4.65 0 1 0 -9.3 0zM443.5 80.3a4.65 4.65 0 1 0 9.3 0a4.65 4.65 0 1 0 -9.3 0zM444.4 79.7a4.65 4.65 0 1 0 9.3 0a4.65 4.65 0 1 0 -9.3 0zM445.4 79.7a4.65 4.65 0 1 0 9.3 0a4.65 4.65 0 1 0 -9.3 0zM446.3 79.1a4.65 4.65 0 1 0 9.3 0a4.65 4.65 0 1 0 -9.3 0zM447.3 79.1a4.65 4.65 0 1 0 9.3 0a4.65 4.65 0 1 0 -9.3 0zM448.3 78.6a4.65 4.65 0 1 0 9.3 0a4.65 4.65 0 1 0 -9.3 0zM449.2 78.6a4.65 4.65 0 1 0 9.3 0a4.65 4.65 0 1 0 -9.3 0zM450.2 78.0a4.65 4.65 0 1 0 9.3 0a4.65 4.65 0 1 0 -9.3 0zM451.2 78.1a4.65 4.65 0 1 0 9.3 0a4.65 4.65 0 1 0 -9.3 0zM452.1 77.6a4.65 4.65 0 1 0 9.3 0a4.65 4.65 0 1 0 -9.3 0zM453.1 77.7a4.65 4.65 0 1 0 9.3 0a4.65 4.65 0 1 0 -9.3 0zM454.1 77.2a4.65 4.65 0 1 0 9.3 0a4.65 4.65 0 1 0 -9.3 0zM455.1 77.3a4.65 4.65 0 1 0 9.3 0a4.65 4.65 0 1 0 -9.3 0zM456.1 76.8a4.65 4.65 0 1 0 9.3 0a4.65 4.65 0 1 0 -9.3 0zM457.0 76.9a4.65 4.65 0 1 0 9.3 0a4.65 4.65 0 1 0 -9.3 0zM458.0 76.4a4.65 4.65 0 1 0 9.3 0a4.65 4.65 0 1 0 -9.3 0zM459.0 76.5a4.65 4.65 0 1 0 9.3 0a4.65 4.65 0 1 0 -9.3 0zM460.0 76.0a4.65 4.65 0 1 0 9.3 0a4.65 4.65 0 1 0 -9.3 0zM461.0 76.1a4.65 4.65 0 1 0 9.3 0a4.65 4.65 0 1 0 -9.3 0zM461.9 75.6a4.65 4.65 0 1 0 9.3 0a4.65 4.65 0 1 0 -9.3 0zM462.9 75.7a4.65 4.65 0 1 0 9.3 0a4.65 4.65 0 1 0 -9.3 0zM463.9 75.2a4.65 4.65 0 1 0 9.3 0a4.65 4.65 0 1 0 -9.3 0zM464.9 75.3a4.65 4.65 0 1 0 9.3 0a4.65 4.65 0 1 0 -9.3 0zM465.9 74.8a4.65 4.65 0 1 0 9.3 0a4.65 4.65 0 1 0 -9.3 0zM466.8 74.9a4.65 4.65 0 1 0 9.3 0a4.65 4.65 0 1 0 -9.3 0zM467.8 74.4a4.65 4.65 0 1 0 9.3 0a4.65 4.65 0 1 0 -9.3 0zM468.8 74.5a4.65 4.65 0 1 0 9.3 0a4.65 4.65 0 1 0 -9.3 0zM469.8 74.0a4.65 4.65 0 1 0 9.3 0a4.65 4.65 0 1 0 -9.3 0zM470.8 74.1a4.65 4.65 0 1 0 9.3 0a4.65 4.65 0 1 0 -9.3 0zM471.7 73.6a4.65 4.65 0 1 0 9.3 0a4.65 4.65 0 1 0 -9.3 0zM472.7 73.7a4.65 4.65 0 1 0 9.3 0a4.65 4.65 0 1 0 -9.3 0zM473.7 73.2a4.65 4.65 0 1 0 9.3 0a4.65 4.65 0 1 0 -9.3 0zM474.7 73.3a4.65 4.65 0 1 0 9.3 0a4.65 4.65 0 1 0 -9.3 0zM475.7 72.8a4.65 4.65 0 1 0 9.3 0a4.65 4.65 0 1 0 -9.3 0zM476.6 72.9a4.65 4.65 0 1 0 9.3 0a4.65 4.65 0 1 0 -9.3 0zM477.6 72.4a4.65 4.65 0 1 0 9.3 0a4.65 4.65 0 1 0 -9.3 0zM478.6 72.5a4.65 4.65 0 1 0 9.3 0a4.65 4.65 0 1 0 -9.3 0zM479.6 72.0a4.65 4.65 0 1 0 9.3 0a4.65 4.65 0 1 0 -9.3 0zM480.6 72.1a4.65 4.65 0 1 0 9.3 0a4.65 4.65 0 1 0 -9.3 0zM481.5 71.6a4.65 4.65 0 1 0 9.3 0a4.65 4.65 0 1 0 -9.3 0zM482.5 71.7a4.65 4.65 0 1 0 9.3 0a4.65 4.65 0 1 0 -9.3 0zM483.5 71.2a4.65 4.65 0 1 0 9.3 0a4.65 4.65 0 1 0 -9.3 0zM484.5 71.3a4.65 4.65 0 1 0 9.3 0a4.65 4.65 0 1 0 -9.3 0zM485.5 70.8a4.65 4.65 0 1 0 9.3 0a4.65 4.65 0 1 0 -9.3 0zM486.4 70.9a4.65 4.65 0 1 0 9.3 0a4.65 4.65 0 1 0 -9.3 0zM487.4 70.4a4.65 4.65 0 1 0 9.3 0a4.65 4.65 0 1 0 -9.3 0zM488.4 70.5a4.65 4.65 0 1 0 9.3 0a4.65 4.65 0 1 0 -9.3 0zM489.4 70.0a4.65 4.65 0 1 0 9.3 0a4.65 4.65 0 1 0 -9.3 0zM490.4 70.2a4.65 4.65 0 1 0 9.3 0a4.65 4.65 0 1 0 -9.3 0zM491.3 69.7a4.65 4.65 0 1 0 9.3 0a4.65 4.65 0 1 0 -9.3 0zM492.3 69.8a4.65 4.65 0 1 0 9.3 0a4.65 4.65 0 1 0 -9.3 0zM493.3 69.3a4.65 4.65 0 1 0 9.3 0a4.65 4.65 0 1 0 -9.3 0zM494.3 69.4a4.65 4.65 0 1 0 9.3 0a4.65 4.65 0 1 0 -9.3 0zM495.3 68.9a4.65 4.65 0 1 0 9.3 0a4.65 4.65 0 1 0 -9.3 0zM496.2 69.0a4.65 4.65 0 1 0 9.3 0a4.65 4.65 0 1 0 -9.3 0zM497.2 68.5a4.65 4.65 0 1 0 9.3 0a4.65 4.65 0 1 0 -9.3 0zM498.2 68.6a4.65 4.65 0 1 0 9.3 0a4.65 4.65 0 1 0 -9.3 0zM499.2 68.1a4.65 4.65 0 1 0 9.3 0a4.65 4.65 0 1 0 -9.3 0zM500.2 68.2a4.65 4.65 0 1 0 9.3 0a4.65 4.65 0 1 0 -9.3 0zM501.1 67.7a4.65 4.65 0 1 0 9.3 0a4.65 4.65 0 1 0 -9.3 0zM502.1 67.8a4.65 4.65 0 1 0 9.3 0a4.65 4.65 0 1 0 -9.3 0zM503.1 67.3a4.65 4.65 0 1 0 9.3 0a4.65 4.65 0 1 0 -9.3 0zM504.1 67.4a4.65 4.65 0 1 0 9.3 0a4.65 4.65 0 1 0 -9.3 0zM505.1 66.9a4.65 4.65 0 1 0 9.3 0a4.65 4.65 0 1 0 -9.3 0zM506.0 67.0a4.65 4.65 0 1 0 9.3 0a4.65 4.65 0 1 0 -9.3 0zM507.0 66.5a4.65 4.65 0 1 0 9.3 0a4.65 4.65 0 1 0 -9.3 0zM508.0 66.6a4.65 4.65 0 1 0 9.3 0a4.65 4.65 0 1 0 -9.3 0zM509.0 66.1a4.65 4.65 0 1 0 9.3 0a4.65 4.65 0 1 0 -9.3 0zM510.0 66.2a4.65 4.65 0 1 0 9.3 0a4.65 4.65 0 1 0 -9.3 0zM510.9 65.7a4.65 4.65 0 1 0 9.3 0a4.65 4.65 0 1 0 -9.3 0zM511.9 65.7a4.65 4.65 0 1 0 9.3 0a4.65 4.65 0 1 0 -9.3 0zM512.9 65.3a4.65 4.65 0 1 0 9.3 0a4.65 4.65 0 1 0 -9.3 0zM513.7 66.2a4.65 4.65 0 1 0 9.3 0a4.65 4.65 0 1 0 -9.3 0zM514.5 66.5a4.65 4.65 0 1 0 9.3 0a4.65 4.65 0 1 0 -9.3 0zM515.3 67.4a4.65 4.65 0 1 0 9.3 0a4.65 4.65 0 1 0 -9.3 0zM516.1 67.7a4.65 4.65 0 1 0 9.3 0a4.65 4.65 0 1 0 -9.3 0zM516.7 68.7a4.65 4.65 0 1 0 9.3 0a4.65 4.65 0 1 0 -9.3 0zM517.2 69.3a4.65 4.65 0 1 0 9.3 0a4.65 4.65 0 1 0 -9.3 0zM517.6 70.5a4.65 4.65 0 1 0 9.3 0a4.65 4.65 0 1 0 -9.3 0zM518.1 71.1a4.65 4.65 0 1 0 9.3 0a4.65 4.65 0 1 0 -9.3 0zM518.6 72.3a4.65 4.65 0 1 0 9.3 0a4.65 4.65 0 1 0 -9.3 0zM519.1 72.8a4.65 4.65 0 1 0 9.3 0a4.65 4.65 0 1 0 -9.3 0zM519.7 73.9a4.65 4.65 0 1 0 9.3 0a4.65 4.65 0 1 0 -9.3 0zM520.5 74.2a4.65 4.65 0 1 0 9.3 0a4.65 4.65 0 1 0 -9.3 0zM521.3 75.1a4.65 4.65 0 1 0 9.3 0a4.65 4.65 0 1 0 -9.3 0zM522.2 74.9a4.65 4.65 0 1 0 9.3 0a4.65 4.65 0 1 0 -9.3 0zM523.2 75.0a4.65 4.65 0 1 0 9.3 0a4.65 4.65 0 1 0 -9.3 0zM524.2 74.5a4.65 4.65 0 1 0 9.3 0a4.65 4.65 0 1 0 -9.3 0zM525.1 74.6a4.65 4.65 0 1 0 9.3 0a4.65 4.65 0 1 0 -9.3 0zM526.1 74.1a4.65 4.65 0 1 0 9.3 0a4.65 4.65 0 1 0 -9.3 0zM527.1 74.2a4.65 4.65 0 1 0 9.3 0a4.65 4.65 0 1 0 -9.3 0zM528.1 73.7a4.65 4.65 0 1 0 9.3 0a4.65 4.65 0 1 0 -9.3 0zM529.1 73.8a4.65 4.65 0 1 0 9.3 0a4.65 4.65 0 1 0 -9.3 0zM530.0 73.3a4.65 4.65 0 1 0 9.3 0a4.65 4.65 0 1 0 -9.3 0zM531.0 73.4a4.65 4.65 0 1 0 9.3 0a4.65 4.65 0 1 0 -9.3 0zM532.0 72.9a4.65 4.65 0 1 0 9.3 0a4.65 4.65 0 1 0 -9.3 0zM532.9 72.9a4.65 4.65 0 1 0 9.3 0a4.65 4.65 0 1 0 -9.3 0zM533.9 72.4a4.65 4.65 0 1 0 9.3 0a4.65 4.65 0 1 0 -9.3 0zM534.9 72.5a4.65 4.65 0 1 0 9.3 0a4.65 4.65 0 1 0 -9.3 0zM535.9 71.9a4.65 4.65 0 1 0 9.3 0a4.65 4.65 0 1 0 -9.3 0zM536.8 72.0a4.65 4.65 0 1 0 9.3 0a4.65 4.65 0 1 0 -9.3 0zM537.8 71.5a4.65 4.65 0 1 0 9.3 0a4.65 4.65 0 1 0 -9.3 0zM538.8 71.5a4.65 4.65 0 1 0 9.3 0a4.65 4.65 0 1 0 -9.3 0zM539.8 71.0a4.65 4.65 0 1 0 9.3 0a4.65 4.65 0 1 0 -9.3 0zM540.7 71.1a4.65 4.65 0 1 0 9.3 0a4.65 4.65 0 1 0 -9.3 0zM541.7 70.5a4.65 4.65 0 1 0 9.3 0a4.65 4.65 0 1 0 -9.3 0zM542.7 70.6a4.65 4.65 0 1 0 9.3 0a4.65 4.65 0 1 0 -9.3 0zM543.6 70.1a4.65 4.65 0 1 0 9.3 0a4.65 4.65 0 1 0 -9.3 0zM544.6 70.1a4.65 4.65 0 1 0 9.3 0a4.65 4.65 0 1 0 -9.3 0zM545.6 69.6a4.65 4.65 0 1 0 9.3 0a4.65 4.65 0 1 0 -9.3 0zM546.6 69.7a4.65 4.65 0 1 0 9.3 0a4.65 4.65 0 1 0 -9.3 0zM547.5 69.1a4.65 4.65 0 1 0 9.3 0a4.65 4.65 0 1 0 -9.3 0zM548.5 69.2a4.65 4.65 0 1 0 9.3 0a4.65 4.65 0 1 0 -9.3 0zM549.5 68.7a4.65 4.65 0 1 0 9.3 0a4.65 4.65 0 1 0 -9.3 0zM550.5 68.8a4.65 4.65 0 1 0 9.3 0a4.65 4.65 0 1 0 -9.3 0zM551.4 68.2a4.65 4.65 0 1 0 9.3 0a4.65 4.65 0 1 0 -9.3 0zM552.4 68.3a4.65 4.65 0 1 0 9.3 0a4.65 4.65 0 1 0 -9.3 0zM553.4 67.8a4.65 4.65 0 1 0 9.3 0a4.65 4.65 0 1 0 -9.3 0zM554.4 67.9a4.65 4.65 0 1 0 9.3 0a4.65 4.65 0 1 0 -9.3 0zM555.3 67.3a4.65 4.65 0 1 0 9.3 0a4.65 4.65 0 1 0 -9.3 0zM556.3 67.4a4.65 4.65 0 1 0 9.3 0a4.65 4.65 0 1 0 -9.3 0zM557.3 66.9a4.65 4.65 0 1 0 9.3 0a4.65 4.65 0 1 0 -9.3 0zM558.3 67.0a4.65 4.65 0 1 0 9.3 0a4.65 4.65 0 1 0 -9.3 0zM559.2 66.4a4.65 4.65 0 1 0 9.3 0a4.65 4.65 0 1 0 -9.3 0zM560.2 66.5a4.65 4.65 0 1 0 9.3 0a4.65 4.65 0 1 0 -9.3 0zM561.2 66.0a4.65 4.65 0 1 0 9.3 0a4.65 4.65 0 1 0 -9.3 0zM562.2 66.1a4.65 4.65 0 1 0 9.3 0a4.65 4.65 0 1 0 -9.3 0zM563.1 65.6a4.65 4.65 0 1 0 9.3 0a4.65 4.65 0 1 0 -9.3 0zM564.1 65.6a4.65 4.65 0 1 0 9.3 0a4.65 4.65 0 1 0 -9.3 0zM565.1 65.1a4.65 4.65 0 1 0 9.3 0a4.65 4.65 0 1 0 -9.3 0zM566.0 65.2a4.65 4.65 0 1 0 9.3 0a4.65 4.65 0 1 0 -9.3 0zM567.0 64.6a4.65 4.65 0 1 0 9.3 0a4.65 4.65 0 1 0 -9.3 0zM568.0 64.6a4.65 4.65 0 1 0 9.3 0a4.65 4.65 0 1 0 -9.3 0zM568.9 64.0a4.65 4.65 0 1 0 9.3 0a4.65 4.65 0 1 0 -9.3 0zM569.9 64.1a4.65 4.65 0 1 0 9.3 0a4.65 4.65 0 1 0 -9.3 0zM570.9 63.5a4.65 4.65 0 1 0 9.3 0a4.65 4.65 0 1 0 -9.3 0zM571.8 63.5a4.65 4.65 0 1 0 9.3 0a4.65 4.65 0 1 0 -9.3 0zM572.8 62.9a4.65 4.65 0 1 0 9.3 0a4.65 4.65 0 1 0 -9.3 0zM573.7 63.0a4.65 4.65 0 1 0 9.3 0a4.65 4.65 0 1 0 -9.3 0zM574.7 62.4a4.65 4.65 0 1 0 9.3 0a4.65 4.65 0 1 0 -9.3 0zM575.7 62.4a4.65 4.65 0 1 0 9.3 0a4.65 4.65 0 1 0 -9.3 0zM102.2 142.4a5.454502953862297 5.454502953862297 0 1 0 10.909005907724595 0a5.454502953862297 5.454502953862297 0 1 0 -10.909005907724595 0zM110.6 140.3a5.373556370635073 5.373556370635073 0 1 0 10.747112741270145 0a5.373556370635073 5.373556370635073 0 1 0 -10.747112741270145 0zM119.1 138.3a5.292136296622012 5.292136296622012 0 1 0 10.584272593244023 0a5.292136296622012 5.292136296622012 0 1 0 -10.584272593244023 0zM127.5 136.3a5.210981234948122 5.210981234948122 0 1 0 10.421962469896243 0a5.210981234948122 5.210981234948122 0 1 0 -10.421962469896243 0zM135.9 134.1a5.129980601041806 5.129980601041806 0 1 0 10.259961202083613 0a5.129980601041806 5.129980601041806 0 1 0 -10.259961202083613 0zM144.3 132.0a5.049059885890898 5.049059885890898 0 1 0 10.098119771781796 0a5.049059885890898 5.049059885890898 0 1 0 -10.098119771781796 0zM152.8 130.2a4.967300774654834 4.967300774654834 0 1 0 9.934601549309669 0a4.967300774654834 4.967300774654834 0 1 0 -9.934601549309669 0zM161.3 128.4a4.88547446841117 4.88547446841117 0 1 0 9.77094893682234 0a4.88547446841117 4.88547446841117 0 1 0 -9.77094893682234 0zM169.9 126.8a4.803317259657578 4.803317259657578 0 1 0 9.606634519315156 0a4.803317259657578 4.803317259657578 0 1 0 -9.606634519315156 0z" fill="#C0504D"/>
<polyline points="44.4,324.0 51.6,300.0 57.6,275.0 62.8,250.0 67.9,225.0 73.4,200.0 78.6,180.0 84.1,162.0 90.0,146.0 96.1,130.0 100.0,126.0 105.0,121.0 110.0,116.0 114.0,111.5 118.0,108.6 125.6,105.8 133.8,103.6 142.5,102.5 150.0,102.0 160.0,101.4 175.0,101.2 195.0,100.6 210.0,100.5 235.0,98.5 245.0,97.3 260.0,95.8 270.0,95.0 305.0,90.6 320.0,88.2 345.0,83.3 349.4,82.6 353.0,84.5 380.0,79.0 415.0,72.0 430.0,69.4 455.0,63.0 490.0,54.7 514.6,49.8 525.0,47.0 535.0,43.5 552.5,39.0 570.0,34.7 575.3,33.5 581.4,41.0" fill="none" stroke="#9BBB59" stroke-width="2" stroke-linejoin="round"/>
<polyline points="99.0,127.0 101.1,124.9 103.2,122.8 105.3,120.7 107.5,118.5 109.6,116.4 111.6,114.2 113.6,112.0 115.9,110.1 118.4,108.5 121.2,107.4 124.0,106.4 126.9,105.5 129.8,104.7 132.7,103.9 135.6,103.4 138.6,103.0 141.6,102.6 144.6,102.4 147.6,102.2 150.6,102.0 153.6,101.8 156.5,101.6 159.5,101.4 162.5,101.4 165.5,101.3 168.5,101.3 171.5,101.2 174.5,101.2 177.5,101.1 180.5,101.0 183.5,100.9 186.5,100.9 189.5,100.8 192.5,100.7 195.5,100.6 198.5,100.6 201.5,100.6 204.5,100.5 207.5,100.5 210.5,100.5 213.5,100.2 216.5,100.0 219.5,99.7 222.5,99.5 225.5,99.3 228.5,99.0 231.5,98.8 234.5,98.5 237.4,98.2 240.4,97.9 243.4,97.5 246.4,97.2 249.4,96.9 252.3,96.6 255.3,96.3 258.3,96.0 261.3,95.7 264.3,95.5 267.3,95.2 270.3,95.0 273.2,94.6 276.2,94.2 279.2,93.8 282.2,93.5 285.2,93.1 288.1,92.7 291.1,92.3 294.1,92.0 297.1,91.6 300.0,91.2 303.0,90.9 306.0,90.4 308.9,90.0 311.9,89.5 314.9,89.0 317.8,88.5 320.8,88.0 323.7,87.5 326.7,86.9 329.6,86.3 332.6,85.7 335.5,85.2 338.5,84.6 341.4,84.0 344.3,83.4 347.3,82.9 350.2,83.0 352.8,84.4 355.7,83.9 358.7,83.3 361.6,82.7 364.6,82.1 367.5,81.5 370.4,80.9 373.4,80.3 376.3,79.7 379.3,79.2 382.2,78.6 385.1,78.0 388.1,77.4 391.0,76.8 394.0,76.2 396.9,75.6 399.9,75.0 402.8,74.4 405.7,73.9 408.7,73.3 411.6,72.7 414.6,72.1 417.5,71.6 420.5,71.1 423.4,70.5 426.4,70.0 429.3,69.5 432.3,68.8 435.2,68.1 438.1,67.3 441.0,66.6 443.9,65.8 446.8,65.1 449.7,64.4 452.6,63.6 455.5,62.9 458.4,62.2 461.3,61.5 464.3,60.8 467.2,60.1 470.1,59.4 473.0,58.7 475.9,58.0 478.9,57.3 481.8,56.6 484.7,56.0 487.6,55.3 490.5,54.6 493.5,54.0 496.4,53.4 499.4,52.8 502.3,52.2 505.3,51.7 508.2,51.1 511.1,50.5 514.1,49.9 517.0,49.2 519.9,48.4 522.8,47.6 525.7,46.8 528.5,45.8 531.3,44.8 534.2,43.8 537.0,43.0 539.9,42.2 542.9,41.5 545.8,40.7 548.7,40.0 551.6,39.2 554.5,38.5 557.4,37.8 560.3,37.1 563.2,36.4 566.1,35.7 569.0,34.9 572.0,34.3 574.9,33.6 575.3,33.5" fill="none" stroke="#9BBB59" stroke-width="8.2" stroke-linejoin="round"/>
<path d="M39.9 324.0L44.4 319.5L48.9 324.0L44.4 328.5zM40.9 320.6L45.4 316.1L49.9 320.6L45.4 325.1zM42.0 317.1L46.5 312.6L51.0 317.1L46.5 321.6zM43.0 313.7L47.5 309.2L52.0 313.7L47.5 318.2zM44.0 310.2L48.5 305.7L53.0 310.2L48.5 314.7zM45.1 306.8L49.6 302.3L54.1 306.8L49.6 311.3zM46.1 303.3L50.6 298.8L55.1 303.3L50.6 307.8zM47.1 299.9L51.6 295.4L56.1 299.9L51.6 304.4zM48.0 296.4L52.5 291.9L57.0 296.4L52.5 300.9zM48.8 292.9L53.3 288.4L57.8 292.9L53.3 297.4zM49.7 289.4L54.2 284.9L58.7 289.4L54.2 293.9zM50.5 285.9L55.0 281.4L59.5 285.9L55.0 290.4zM51.3 282.4L55.8 277.9L60.3 282.4L55.8 286.9zM52.2 278.9L56.7 274.4L61.2 278.9L56.7 283.4zM53.0 275.4L57.5 270.9L62.0 275.4L57.5 279.9zM53.8 271.8L58.3 267.3L62.8 271.8L58.3 276.3zM54.5 268.3L59.0 263.8L63.5 268.3L59.0 272.8zM55.2 264.8L59.7 260.3L64.2 264.8L59.7 269.3zM56.0 261.3L60.5 256.8L65.0 261.3L60.5 265.8zM56.7 257.7L61.2 253.2L65.7 257.7L61.2 262.2zM57.4 254.2L61.9 249.7L66.4 254.2L61.9 258.7zM58.2 250.7L62.7 246.2L67.2 250.7L62.7 255.2zM58.9 247.2L63.4 242.7L67.9 247.2L63.4 251.7zM59.6 243.6L64.1 239.1L68.6 243.6L64.1 248.1zM60.3 240.1L64.8 235.6L69.3 240.1L64.8 244.6zM61.0 236.6L65.5 232.1L70.0 236.6L65.5 241.1zM61.8 233.1L66.3 228.6L70.8 233.1L66.3 237.6zM62.5 229.5L67.0 225.0L71.5 229.5L67.0 234.0zM63.2 226.0L67.7 221.5L72.2 226.0L67.7 230.5zM64.0 222.5L68.5 218.0L73.0 222.5L68.5 227.0zM64.7 219.0L69.2 214.5L73.7 219.0L69.2 223.5zM65.5 215.4L70.0 210.9L74.5 215.4L70.0 219.9zM66.3 211.9L70.8 207.4L75.3 211.9L70.8 216.4zM67.0 208.4L71.5 203.9L76.0 208.4L71.5 212.9zM67.8 204.9L72.3 200.4L76.8 204.9L72.3 209.4zM68.6 201.4L73.1 196.9L77.6 201.4L73.1 205.9zM69.4 197.9L73.9 193.4L78.4 197.9L73.9 202.4zM70.4 194.4L74.9 189.9L79.4 194.4L74.9 198.9zM71.3 190.9L75.8 186.4L80.3 190.9L75.8 195.4zM72.2 187.4L76.7 182.9L81.2 187.4L76.7 191.9zM73.1 183.9L77.6 179.4L82.1 183.9L77.6 188.4zM74.0 180.5L78.5 176.0L83.0 180.5L78.5 185.0zM75.0 177.0L79.5 172.5L84.0 177.0L79.5 181.5zM76.1 173.6L80.6 169.1L85.1 173.6L80.6 178.1zM77.1 170.1L81.6 165.6L86.1 170.1L81.6 174.6zM78.2 166.7L82.7 162.2L87.2 166.7L82.7 171.2zM79.2 163.2L83.7 158.7L88.2 163.2L83.7 167.7zM80.4 159.8L84.9 155.3L89.4 159.8L84.9 164.3zM81.6 156.5L86.1 152.0L90.6 156.5L86.1 161.0zM82.9 153.1L87.4 148.6L91.9 153.1L87.4 157.6zM84.1 149.7L88.6 145.2L93.1 149.7L88.6 154.2zM85.4 146.3L89.9 141.8L94.4 146.3L89.9 150.8zM86.7 143.0L91.2 138.5L95.7 143.0L91.2 147.5zM87.9 139.6L92.4 135.1L96.9 139.6L92.4 144.1zM89.2 136.2L93.7 131.7L98.2 136.2L93.7 140.7zM90.5 132.9L95.0 128.4L99.5 132.9L95.0 137.4zM92.0 129.6L96.5 125.1L101.0 129.6L96.5 134.1zM94.5 127.2L99.0 122.7L103.5 127.2L99.0 131.7zM95.2 126.2L99.7 121.7L104.2 126.2L99.7 130.7zM95.9 125.8L100.4 121.3L104.9 125.8L100.4 130.3zM96.6 124.8L101.1 120.3L105.6 124.8L101.1 129.3zM97.3 124.4L101.8 119.9L106.3 124.4L101.8 128.9zM98.0 123.3L102.5 118.8L107.0 123.3L102.5 127.8zM98.7 122.9L103.2 118.4L107.7 122.9L103.2 127.4zM99.4 121.9L103.9 117.4L108.4 121.9L103.9 126.4zM100.1 121.5L104.6 117.0L109.1 121.5L104.6 126.0zM100.8 120.5L105.3 116.0L109.8 120.5L105.3 125.0zM101.5 120.1L106.0 115.6L110.5 120.1L106.0 124.6zM102.2 119.1L106.7 114.6L111.2 119.1L106.7 123.6zM103.0 118.7L107.5 114.2L112.0 118.7L107.5 123.2zM103.7 117.7L108.2 113.2L112.7 117.7L108.2 122.2zM104.4 117.3L108.9 112.8L113.4 117.3L108.9 121.8zM105.1 116.3L109.6 111.8L114.1 116.3L109.6 120.8zM105.8 115.9L110.3 111.4L114.8 115.9L110.3 120.4zM106.4 114.8L110.9 110.3L115.4 114.8L110.9 119.3zM107.1 114.4L111.6 109.9L116.1 114.4L111.6 118.9zM107.8 113.3L112.3 108.8L116.8 113.3L112.3 117.8zM108.4 112.9L112.9 108.4L117.4 112.9L112.9 117.4zM109.1 111.8L113.6 107.3L118.1 111.8L113.6 116.3zM109.8 111.4L114.3 106.9L118.8 111.4L114.3 115.9zM110.6 110.5L115.1 106.0L119.6 110.5L115.1 115.0zM111.4 110.3L115.9 105.8L120.4 110.3L115.9 114.8zM112.2 109.4L116.7 104.9L121.2 109.4L116.7 113.9zM113.0 109.1L117.5 104.6L122.0 109.1L117.5 113.6zM113.9 108.3L118.4 103.8L122.9 108.3L118.4 112.8zM114.8 108.3L119.3 103.8L123.8 108.3L119.3 112.8zM115.8 107.6L120.3 103.1L124.8 107.6L120.3 112.1zM116.7 107.6L121.2 103.1L125.7 107.6L121.2 112.1zM117.7 106.9L122.2 102.4L126.7 106.9L122.2 111.4zM118.6 106.9L123.1 102.4L127.6 106.9L123.1 111.4zM119.5 106.2L124.0 101.7L128.5 106.2L124.0 110.7zM120.5 106.2L125.0 101.7L129.5 106.2L125.0 110.7zM121.4 105.6L125.9 101.1L130.4 105.6L125.9 110.1zM122.4 105.6L126.9 101.1L131.4 105.6L126.9 110.1zM123.4 105.0L127.9 100.5L132.4 105.0L127.9 109.5zM124.3 105.1L128.8 100.6L133.3 105.1L128.8 109.6zM125.3 104.5L129.8 100.0L134.3 104.5L129.8 109.0zM126.3 104.6L130.8 100.1L135.3 104.6L130.8 109.1zM127.2 104.0L131.7 99.5L136.2 104.0L131.7 108.5zM128.2 104.0L132.7 99.5L137.2 104.0L132.7 108.5zM129.1 103.5L133.6 99.0L138.1 103.5L133.6 108.0zM130.1 103.6L134.6 99.1L139.1 103.6L134.6 108.1zM131.1 103.2L135.6 98.7L140.1 103.2L135.6 107.7zM132.1 103.4L136.6 98.9L141.1 103.4L136.6 107.9zM133.1 103.0L137.6 98.5L142.1 103.0L137.6 107.5zM134.1 103.1L138.6 98.6L143.1 103.1L138.6 107.6zM135.1 102.7L139.6 98.2L144.1 102.7L139.6 107.2zM136.1 102.9L140.6 98.4L145.1 102.9L140.6 107.4zM137.1 102.5L141.6 98.0L146.1 102.5L141.6 107.0zM138.1 102.6L142.6 98.1L147.1 102.6L142.6 107.1zM139.1 102.3L143.6 97.8L148.1 102.3L143.6 106.8zM140.1 102.5L144.6 98.0L149.1 102.5L144.6 107.0zM141.1 102.1L145.6 97.6L150.1 102.1L145.6 106.6zM142.1 102.4L146.6 97.9L151.1 102.4L146.6 106.9zM143.1 102.0L147.6 97.5L152.1 102.0L147.6 106.5zM144.1 102.2L148.6 97.7L153.1 102.2L148.6 106.7zM145.1 101.9L149.6 97.4L154.1 101.9L149.6 106.4zM146.1 102.1L150.6 97.6L155.1 102.1L150.6 106.6zM147.1 101.8L151.6 97.3L156.1 101.8L151.6 106.3zM148.1 102.0L152.6 97.5L157.1 102.0L152.6 106.5zM149.1 101.6L153.6 97.1L158.1 101.6L153.6 106.1zM150.0 101.9L154.5 97.4L159.0 101.9L154.5 106.4zM151.0 101.5L155.5 97.0L160.0 101.5L155.5 106.0zM152.0 101.8L156.5 97.3L161.0 101.8L156.5 106.3zM153.0 101.4L157.5 96.9L162.0 101.4L157.5 105.9zM154.0 101.6L158.5 97.1L163.0 101.6L158.5 106.1zM155.0 101.3L159.5 96.8L164.0 101.3L159.5 105.8zM156.0 101.5L160.5 97.0L165.0 101.5L160.5 106.0zM157.0 101.2L161.5 96.7L166.0 101.2L161.5 105.7zM158.0 101.5L162.5 97.0L167.0 101.5L162.5 106.0zM159.0 101.2L163.5 96.7L168.0 101.2L163.5 105.7zM160.0 101.5L164.5 97.0L169.0 101.5L164.5 106.0zM161.0 101.2L165.5 96.7L170.0 101.2L165.5 105.7zM162.0 101.5L166.5 97.0L171.0 101.5L166.5 106.0zM163.0 101.1L167.5 96.6L172.0 101.1L167.5 105.6zM164.0 101.4L168.5 96.9L173.0 101.4L168.5 105.9zM165.0 101.1L169.5 96.6L174.0 101.1L169.5 105.6zM166.0 101.4L170.5 96.9L175.0 101.4L170.5 105.9zM167.0 101.1L171.5 96.6L176.0 101.1L171.5 105.6zM168.0 101.4L172.5 96.9L177.0 101.4L172.5 105.9zM169.0 101.1L173.5 96.6L178.0 101.1L173.5 105.6zM170.0 101.4L174.5 96.9L179.0 101.4L174.5 105.9zM171.0 101.0L175.5 96.5L180.0 101.0L175.5 105.5zM172.0 101.3L176.5 96.8L181.0 101.3L176.5 105.8zM173.0 101.0L177.5 96.5L182.0 101.0L177.5 105.5zM174.0 101.2L178.5 96.7L183.0 101.2L178.5 105.7zM175.0 100.9L179.5 96.4L184.0 100.9L179.5 105.4zM176.0 101.2L180.5 96.7L185.0 101.2L180.5 105.7zM177.0 100.9L181.5 96.4L186.0 100.9L181.5 105.4zM178.0 101.1L182.5 96.6L187.0 101.1L182.5 105.6zM179.0 100.8L183.5 96.3L188.0 100.8L183.5 105.3zM180.0 101.1L184.5 96.6L189.0 101.1L184.5 105.6zM181.0 100.7L185.5 96.2L190.0 100.7L185.5 105.2zM182.0 101.0L186.5 96.5L191.0 101.0L186.5 105.5zM183.0 100.7L187.5 96.2L192.0 100.7L187.5 105.2zM184.0 100.9L188.5 96.4L193.0 100.9L188.5 105.4zM185.0 100.6L189.5 96.1L194.0 100.6L189.5 105.1zM186.0 100.9L190.5 96.4L195.0 100.9L190.5 105.4zM187.0 100.6L191.5 96.1L196.0 100.6L191.5 105.1zM188.0 100.8L192.5 96.3L197.0 100.8L192.5 105.3zM189.0 100.5L193.5 96.0L198.0 100.5L193.5 105.0zM190.0 100.8L194.5 96.3L199.0 100.8L194.5 105.3zM191.0 100.4L195.5 95.9L200.0 100.4L195.5 104.9zM192.0 100.7L196.5 96.2L201.0 100.7L196.5 105.2zM193.0 100.4L197.5 95.9L202.0 100.4L197.5 104.9zM194.0 100.7L198.5 96.2L203.0 100.7L198.5 105.2zM195.0 100.4L199.5 95.9L204.0 100.4L199.5 104.9zM196.0 100.7L200.5 96.2L205.0 100.7L200.5 105.2zM197.0 100.4L201.5 95.9L206.0 100.4L201.5 104.9zM198.0 100.7L202.5 96.2L207.0 100.7L202.5 105.2zM199.0 100.4L203.5 95.9L208.0 100.4L203.5 104.9zM200.0 100.7L204.5 96.2L209.0 100.7L204.5 105.2zM201.0 100.4L205.5 95.9L210.0 100.4L205.5 104.9zM202.0 100.7L206.5 96.2L211.0 100.7L206.5 105.2zM203.0 100.4L207.5 95.9L212.0 100.4L207.5 104.9zM204.0 100.7L208.5 96.2L213.0 100.7L208.5 105.2zM205.0 100.4L209.5 95.9L214.0 100.4L209.5 104.9zM206.0 100.6L210.5 96.1L215.0 100.6L210.5 105.1zM207.0 100.2L211.5 95.7L216.0 100.2L211.5 104.7zM208.0 100.4L212.5 95.9L217.0 100.4L212.5 104.9zM209.0 100.1L213.5 95.6L218.0 100.1L213.5 104.6zM210.0 100.3L214.5 95.8L219.0 100.3L214.5 104.8zM211.0 99.9L215.5 95.4L220.0 99.9L215.5 104.4zM212.0 100.1L216.5 95.6L221.0 100.1L216.5 104.6zM213.0 99.7L217.5 95.2L222.0 99.7L217.5 104.2zM214.0 100.0L218.5 95.5L223.0 100.0L218.5 104.5zM215.0 99.6L219.5 95.1L224.0 99.6L219.5 104.1zM216.0 99.8L220.5 95.3L225.0 99.8L220.5 104.3zM217.0 99.4L221.5 94.9L226.0 99.4L221.5 103.9zM218.0 99.7L222.5 95.2L227.0 99.7L222.5 104.2zM219.0 99.3L223.5 94.8L228.0 99.3L223.5 103.8zM220.0 99.5L224.5 95.0L229.0 99.5L224.5 104.0zM221.0 99.1L225.5 94.6L230.0 99.1L225.5 103.6zM222.0 99.3L226.5 94.8L231.0 99.3L226.5 103.8zM223.0 99.0L227.5 94.5L232.0 99.0L227.5 103.5zM224.0 99.2L228.5 94.7L233.0 99.2L228.5 103.7zM225.0 98.8L229.5 94.3L234.0 98.8L229.5 103.3zM226.0 99.0L230.5 94.5L235.0 99.0L230.5 103.5zM227.0 98.6L231.5 94.1L236.0 98.6L231.5 103.1zM228.0 98.9L232.5 94.4L237.0 98.9L232.5 103.4zM229.0 98.5L233.5 94.0L238.0 98.5L233.5 103.0zM230.0 98.7L234.5 94.2L239.0 98.7L234.5 103.2zM230.9 98.3L235.4 93.8L239.9 98.3L235.4 102.8zM231.9 98.5L236.4 94.0L240.9 98.5L236.4 103.0zM232.9 98.1L237.4 93.6L241.9 98.1L237.4 102.6zM233.9 98.2L238.4 93.7L242.9 98.2L238.4 102.7zM234.9 97.8L239.4 93.3L243.9 97.8L239.4 102.3zM235.9 98.0L240.4 93.5L244.9 98.0L240.4 102.5zM236.9 97.6L241.4 93.1L245.9 97.6L241.4 102.1zM237.9 97.8L242.4 93.3L246.9 97.8L242.4 102.3zM238.9 97.3L243.4 92.8L247.9 97.3L243.4 101.8zM239.9 97.5L244.4 93.0L248.9 97.5L244.4 102.0zM240.9 97.1L245.4 92.6L249.9 97.1L245.4 101.6zM241.9 97.3L246.4 92.8L250.9 97.3L246.4 101.8zM242.9 96.9L247.4 92.4L251.9 96.9L247.4 101.4zM243.9 97.1L248.4 92.6L252.9 97.1L248.4 101.6zM244.9 96.7L249.4 92.2L253.9 96.7L249.4 101.2zM245.9 96.9L250.4 92.4L254.9 96.9L250.4 101.4zM246.8 96.5L251.3 92.0L255.8 96.5L251.3 101.0zM247.8 96.7L252.3 92.2L256.8 96.7L252.3 101.2zM248.8 96.3L253.3 91.8L257.8 96.3L253.3 100.8zM249.8 96.5L254.3 92.0L258.8 96.5L254.3 101.0zM250.8 96.1L255.3 91.6L259.8 96.1L255.3 100.6zM251.8 96.3L256.3 91.8L260.8 96.3L256.3 100.8zM252.8 95.9L257.3 91.4L261.8 95.9L257.3 100.4zM253.8 96.1L258.3 91.6L262.8 96.1L258.3 100.6zM254.8 95.7L259.3 91.2L263.8 95.7L259.3 100.2zM255.8 95.9L260.3 91.4L264.8 95.9L260.3 100.4zM256.8 95.5L261.3 91.0L265.8 95.5L261.3 100.0zM257.8 95.8L262.3 91.3L266.8 95.8L262.3 100.3zM258.8 95.4L263.3 90.9L267.8 95.4L263.3 99.9zM259.8 95.6L264.3 91.1L268.8 95.6L264.3 100.1zM260.8 95.2L265.3 90.7L269.8 95.2L265.3 99.7zM261.8 95.4L266.3 90.9L270.8 95.4L266.3 99.9zM262.8 95.1L267.3 90.6L271.8 95.1L267.3 99.6zM263.8 95.3L268.3 90.8L272.8 95.3L268.3 99.8zM264.8 94.9L269.3 90.4L273.8 94.9L269.3 99.4zM265.8 95.1L270.3 90.6L274.8 95.1L270.3 99.6zM266.8 94.7L271.3 90.2L275.8 94.7L271.3 99.2zM267.8 94.9L272.3 90.4L276.8 94.9L272.3 99.4zM268.7 94.4L273.2 89.9L277.7 94.4L273.2 98.9zM269.7 94.6L274.2 90.1L278.7 94.6L274.2 99.1zM270.7 94.2L275.2 89.7L279.7 94.2L275.2 98.7zM271.7 94.4L276.2 89.9L280.7 94.4L276.2 98.9zM272.7 93.9L277.2 89.4L281.7 93.9L277.2 98.4zM273.7 94.1L278.2 89.6L282.7 94.1L278.2 98.6zM274.7 93.7L279.2 89.2L283.7 93.7L279.2 98.2zM275.7 93.9L280.2 89.4L284.7 93.9L280.2 98.4zM276.7 93.4L281.2 88.9L285.7 93.4L281.2 97.9zM277.7 93.6L282.2 89.1L286.7 93.6L282.2 98.1zM278.7 93.2L283.2 88.7L287.7 93.2L283.2 97.7zM279.7 93.4L284.2 88.9L288.7 93.4L284.2 97.9zM280.7 92.9L285.2 88.4L289.7 92.9L285.2 97.4zM281.6 93.1L286.1 88.6L290.6 93.1L286.1 97.6zM282.6 92.7L287.1 88.2L291.6 92.7L287.1 97.2zM283.6 92.9L288.1 88.4L292.6 92.9L288.1 97.4zM284.6 92.4L289.1 87.9L293.6 92.4L289.1 96.9zM285.6 92.6L290.1 88.1L294.6 92.6L290.1 97.1zM286.6 92.2L291.1 87.7L295.6 92.2L291.1 96.7zM287.6 92.4L292.1 87.9L296.6 92.4L292.1 96.9zM288.6 91.9L293.1 87.4L297.6 91.9L293.1 96.4zM289.6 92.1L294.1 87.6L298.6 92.1L294.1 96.6zM290.6 91.7L295.1 87.2L299.6 91.7L295.1 96.2zM291.6 91.9L296.1 87.4L300.6 91.9L296.1 96.4zM292.6 91.4L297.1 86.9L301.6 91.4L297.1 95.9zM293.5 91.6L298.0 87.1L302.5 91.6L298.0 96.1zM294.5 91.2L299.0 86.7L303.5 91.2L299.0 95.7zM295.5 91.4L300.0 86.9L304.5 91.4L300.0 95.9zM296.5 90.9L301.0 86.4L305.5 90.9L301.0 95.4zM297.5 91.1L302.0 86.6L306.5 91.1L302.0 95.6zM298.5 90.7L303.0 86.2L307.5 90.7L303.0 95.2zM299.5 90.9L304.0 86.4L308.5 90.9L304.0 95.4zM300.5 90.5L305.0 86.0L309.5 90.5L305.0 95.0zM301.5 90.6L306.0 86.1L310.5 90.6L306.0 95.1zM302.5 90.1L307.0 85.6L311.5 90.1L307.0 94.6zM303.5 90.3L308.0 85.8L312.5 90.3L308.0 94.8zM304.4 89.8L308.9 85.3L313.4 89.8L308.9 94.3zM305.4 90.0L309.9 85.5L314.4 90.0L309.9 94.5zM306.4 89.5L310.9 85.0L315.4 89.5L310.9 94.0zM307.4 89.6L311.9 85.1L316.4 89.6L311.9 94.1zM308.4 89.2L312.9 84.7L317.4 89.2L312.9 93.7zM309.4 89.3L313.9 84.8L318.4 89.3L313.9 93.8zM310.4 88.9L314.9 84.4L319.4 88.9L314.9 93.4zM311.4 89.0L315.9 84.5L320.4 89.0L315.9 93.5zM312.3 88.6L316.8 84.1L321.3 88.6L316.8 93.1zM313.3 88.7L317.8 84.2L322.3 88.7L317.8 93.2zM314.3 88.2L318.8 83.7L323.3 88.2L318.8 92.7zM315.3 88.4L319.8 83.9L324.3 88.4L319.8 92.9zM316.3 87.9L320.8 83.4L325.3 87.9L320.8 92.4zM317.3 88.0L321.8 83.5L326.3 88.0L321.8 92.5zM318.3 87.5L322.8 83.0L327.3 87.5L322.8 92.0zM319.2 87.6L323.7 83.1L328.2 87.6L323.7 92.1zM320.2 87.1L324.7 82.6L329.2 87.1L324.7 91.6zM321.2 87.2L325.7 82.7L330.2 87.2L325.7 91.7zM322.2 86.7L326.7 82.2L331.2 86.7L326.7 91.2zM323.2 86.8L327.7 82.3L332.2 86.8L327.7 91.3zM324.1 86.4L328.6 81.9L333.1 86.4L328.6 90.9zM325.1 86.5L329.6 82.0L334.1 86.5L329.6 91.0zM326.1 86.0L330.6 81.5L335.1 86.0L330.6 90.5zM327.1 86.1L331.6 81.6L336.1 86.1L331.6 90.6zM328.1 85.6L332.6 81.1L337.1 85.6L332.6 90.1zM329.0 85.7L333.5 81.2L338.0 85.7L333.5 90.2zM330.0 85.2L334.5 80.7L339.0 85.2L334.5 89.7zM331.0 85.3L335.5 80.8L340.0 85.3L335.5 89.8zM332.0 84.8L336.5 80.3L341.0 84.8L336.5 89.3zM333.0 84.9L337.5 80.4L342.0 84.9L337.5 89.4zM334.0 84.4L338.5 79.9L343.0 84.4L338.5 88.9zM334.9 84.5L339.4 80.0L343.9 84.5L339.4 89.0zM335.9 84.0L340.4 79.5L344.9 84.0L340.4 88.5zM336.9 84.2L341.4 79.7L345.9 84.2L341.4 88.7zM337.9 83.7L342.4 79.2L346.9 83.7L342.4 88.2zM338.9 83.8L343.4 79.3L347.9 83.8L343.4 88.3zM339.8 83.3L344.3 78.8L348.8 83.3L344.3 87.8zM340.8 83.4L345.3 78.9L349.8 83.4L345.3 87.9zM341.8 82.9L346.3 78.4L350.8 82.9L346.3 87.4zM342.8 83.1L347.3 78.6L351.8 83.1L347.3 87.6zM343.8 82.6L348.3 78.1L352.8 82.6L348.3 87.1zM344.8 82.8L349.3 78.3L353.8 82.8L349.3 87.3zM345.7 82.9L350.2 78.4L354.7 82.9L350.2 87.4zM346.6 83.6L351.1 79.1L355.6 83.6L351.1 88.1zM347.4 83.8L351.9 79.3L356.4 83.8L351.9 88.3zM348.3 84.6L352.8 80.1L357.3 84.6L352.8 89.1zM349.3 84.2L353.8 79.7L358.3 84.2L353.8 88.7zM350.3 84.3L354.8 79.8L359.3 84.3L354.8 88.8zM351.2 83.8L355.7 79.3L360.2 83.8L355.7 88.3zM352.2 83.9L356.7 79.4L361.2 83.9L356.7 88.4zM353.2 83.4L357.7 78.9L362.2 83.4L357.7 87.9zM354.2 83.5L358.7 79.0L363.2 83.5L358.7 88.0zM355.2 83.0L359.7 78.5L364.2 83.0L359.7 87.5zM356.1 83.1L360.6 78.6L365.1 83.1L360.6 87.6zM357.1 82.6L361.6 78.1L366.1 82.6L361.6 87.1zM358.1 82.7L362.6 78.2L367.1 82.7L362.6 87.2zM359.1 82.2L363.6 77.7L368.1 82.2L363.6 86.7zM360.1 82.3L364.6 77.8L369.1 82.3L364.6 86.8zM361.0 81.8L365.5 77.3L370.0 81.8L365.5 86.3zM362.0 81.9L366.5 77.4L371.0 81.9L366.5 86.4zM363.0 81.4L367.5 76.9L372.0 81.4L367.5 85.9zM364.0 81.5L368.5 77.0L373.0 81.5L368.5 86.0zM365.0 81.0L369.5 76.5L374.0 81.0L369.5 85.5zM365.9 81.1L370.4 76.6L374.9 81.1L370.4 85.6zM366.9 80.6L371.4 76.1L375.9 80.6L371.4 85.1zM367.9 80.7L372.4 76.2L376.9 80.7L372.4 85.2zM368.9 80.2L373.4 75.7L377.9 80.2L373.4 84.7zM369.9 80.3L374.4 75.8L378.9 80.3L374.4 84.8zM370.8 79.8L375.3 75.3L379.8 79.8L375.3 84.3zM371.8 79.9L376.3 75.4L380.8 79.9L376.3 84.4zM372.8 79.4L377.3 74.9L381.8 79.4L377.3 83.9zM373.8 79.5L378.3 75.0L382.8 79.5L378.3 84.0zM374.8 79.0L379.3 74.5L383.8 79.0L379.3 83.5zM375.7 79.1L380.2 74.6L384.7 79.1L380.2 83.6zM376.7 78.6L381.2 74.1L385.7 78.6L381.2 83.1zM377.7 78.7L382.2 74.2L386.7 78.7L382.2 83.2zM378.7 78.2L383.2 73.7L387.7 78.2L383.2 82.7zM379.7 78.3L384.2 73.8L388.7 78.3L384.2 82.8zM380.6 77.8L385.1 73.3L389.6 77.8L385.1 82.3zM381.6 77.9L386.1 73.4L390.6 77.9L386.1 82.4zM382.6 77.4L387.1 72.9L391.6 77.4L387.1 81.9zM383.6 77.5L388.1 73.0L392.6 77.5L388.1 82.0zM384.6 77.0L389.1 72.5L393.6 77.0L389.1 81.5zM385.5 77.1L390.0 72.6L394.5 77.1L390.0 81.6zM386.5 76.6L391.0 72.1L395.5 76.6L391.0 81.1zM387.5 76.7L392.0 72.2L396.5 76.7L392.0 81.2zM388.5 76.3L393.0 71.8L397.5 76.3L393.0 80.8zM389.5 76.4L394.0 71.9L398.5 76.4L394.0 80.9zM390.5 75.9L395.0 71.4L399.5 75.9L395.0 80.4zM391.4 76.0L395.9 71.5L400.4 76.0L395.9 80.5zM392.4 75.5L396.9 71.0L401.4 75.5L396.9 80.0zM393.4 75.6L397.9 71.1L402.4 75.6L397.9 80.1zM394.4 75.1L398.9 70.6L403.4 75.1L398.9 79.6zM395.4 75.2L399.9 70.7L404.4 75.2L399.9 79.7zM396.3 74.7L400.8 70.2L405.3 74.7L400.8 79.2zM397.3 74.8L401.8 70.3L406.3 74.8L401.8 79.3zM398.3 74.3L402.8 69.8L407.3 74.3L402.8 78.8zM399.3 74.4L403.8 69.9L408.3 74.4L403.8 78.9zM400.3 73.9L404.8 69.4L409.3 73.9L404.8 78.4zM401.2 74.0L405.7 69.5L410.2 74.0L405.7 78.5zM402.2 73.5L406.7 69.0L411.2 73.5L406.7 78.0zM403.2 73.6L407.7 69.1L412.2 73.6L407.7 78.1zM404.2 73.1L408.7 68.6L413.2 73.1L408.7 77.6zM405.2 73.2L409.7 68.7L414.2 73.2L409.7 77.7zM406.1 72.7L410.6 68.2L415.1 72.7L410.6 77.2zM407.1 72.8L411.6 68.3L416.1 72.8L411.6 77.3zM408.1 72.3L412.6 67.8L417.1 72.3L412.6 76.8zM409.1 72.4L413.6 67.9L418.1 72.4L413.6 76.9zM410.1 71.9L414.6 67.4L419.1 71.9L414.6 76.4zM411.0 72.1L415.5 67.6L420.0 72.1L415.5 76.6zM412.0 71.6L416.5 67.1L421.0 71.6L416.5 76.1zM413.0 71.7L417.5 67.2L422.0 71.7L417.5 76.2zM414.0 71.2L418.5 66.7L423.0 71.2L418.5 75.7zM415.0 71.4L419.5 66.9L424.0 71.4L419.5 75.9zM416.0 70.9L420.5 66.4L425.0 70.9L420.5 75.4zM417.0 71.0L421.5 66.5L426.0 71.0L421.5 75.5zM417.9 70.6L422.4 66.1L426.9 70.6L422.4 75.1zM418.9 70.7L423.4 66.2L427.9 70.7L423.4 75.2zM419.9 70.2L424.4 65.7L428.9 70.2L424.4 74.7zM420.9 70.3L425.4 65.8L429.9 70.3L425.4 74.8zM421.9 69.9L426.4 65.4L430.9 69.9L426.4 74.4zM422.9 70.0L427.4 65.5L431.9 70.0L427.4 74.5zM423.9 69.5L428.4 65.0L432.9 69.5L428.4 74.0zM424.8 69.7L429.3 65.2L433.8 69.7L429.3 74.2zM425.8 69.2L430.3 64.7L434.8 69.2L430.3 73.7zM426.8 69.2L431.3 64.7L435.8 69.2L431.3 73.7zM427.8 68.7L432.3 64.2L436.8 68.7L432.3 73.2zM428.7 68.7L433.2 64.2L437.7 68.7L433.2 73.2zM429.7 68.2L434.2 63.7L438.7 68.2L434.2 72.7zM430.7 68.2L435.2 63.7L439.7 68.2L435.2 72.7zM431.6 67.7L436.1 63.2L440.6 67.7L436.1 72.2zM432.6 67.7L437.1 63.2L441.6 67.7L437.1 72.2zM433.6 67.2L438.1 62.7L442.6 67.2L438.1 71.7zM434.5 67.2L439.0 62.7L443.5 67.2L439.0 71.7zM435.5 66.7L440.0 62.2L444.5 66.7L440.0 71.2zM436.5 66.7L441.0 62.2L445.5 66.7L441.0 71.2zM437.4 66.2L441.9 61.7L446.4 66.2L441.9 70.7zM438.4 66.2L442.9 61.7L447.4 66.2L442.9 70.7zM439.4 65.7L443.9 61.2L448.4 65.7L443.9 70.2zM440.4 65.7L444.9 61.2L449.4 65.7L444.9 70.2zM441.3 65.2L445.8 60.7L450.3 65.2L445.8 69.7zM442.3 65.3L446.8 60.8L451.3 65.3L446.8 69.8zM443.3 64.7L447.8 60.2L452.3 64.7L447.8 69.2zM444.2 64.8L448.7 60.3L453.2 64.8L448.7 69.3zM445.2 64.2L449.7 59.7L454.2 64.2L449.7 68.7zM446.2 64.3L450.7 59.8L455.2 64.3L450.7 68.8zM447.1 63.7L451.6 59.2L456.1 63.7L451.6 68.2zM448.1 63.8L452.6 59.3L457.1 63.8L452.6 68.3zM449.1 63.2L453.6 58.7L458.1 63.2L453.6 67.7zM450.0 63.3L454.5 58.8L459.0 63.3L454.5 67.8zM451.0 62.7L455.5 58.2L460.0 62.7L455.5 67.2zM452.0 62.8L456.5 58.3L461.0 62.8L456.5 67.3zM453.0 62.3L457.5 57.8L462.0 62.3L457.5 66.8zM453.9 62.3L458.4 57.8L462.9 62.3L458.4 66.8zM454.9 61.8L459.4 57.3L463.9 61.8L459.4 66.3zM455.9 61.9L460.4 57.4L464.9 61.9L460.4 66.4zM456.8 61.3L461.3 56.8L465.8 61.3L461.3 65.8zM457.8 61.4L462.3 56.9L466.8 61.4L462.3 65.9zM458.8 60.9L463.3 56.4L467.8 60.9L463.3 65.4zM459.8 61.0L464.3 56.5L468.8 61.0L464.3 65.5zM460.7 60.4L465.2 55.9L469.7 60.4L465.2 64.9zM461.7 60.5L466.2 56.0L470.7 60.5L466.2 65.0zM462.7 60.0L467.2 55.5L471.7 60.0L467.2 64.5zM463.7 60.0L468.2 55.5L472.7 60.0L468.2 64.5zM464.6 59.5L469.1 55.0L473.6 59.5L469.1 64.0zM465.6 59.6L470.1 55.1L474.6 59.6L470.1 64.1zM466.6 59.0L471.1 54.5L475.6 59.0L471.1 63.5zM467.6 59.1L472.1 54.6L476.6 59.1L472.1 63.6zM468.5 58.6L473.0 54.1L477.5 58.6L473.0 63.1zM469.5 58.6L474.0 54.1L478.5 58.6L474.0 63.1zM470.5 58.1L475.0 53.6L479.5 58.1L475.0 62.6zM471.4 58.2L475.9 53.7L480.4 58.2L475.9 62.7zM472.4 57.7L476.9 53.2L481.4 57.7L476.9 62.2zM473.4 57.7L477.9 53.2L482.4 57.7L477.9 62.2zM474.4 57.2L478.9 52.7L483.4 57.2L478.9 61.7zM475.3 57.3L479.8 52.8L484.3 57.3L479.8 61.8zM476.3 56.7L480.8 52.2L485.3 56.7L480.8 61.2zM477.3 56.8L481.8 52.3L486.3 56.8L481.8 61.3zM478.3 56.3L482.8 51.8L487.3 56.3L482.8 60.8zM479.2 56.3L483.7 51.8L488.2 56.3L483.7 60.8zM480.2 55.8L484.7 51.3L489.2 55.8L484.7 60.3zM481.2 55.9L485.7 51.4L490.2 55.9L485.7 60.4zM482.1 55.3L486.6 50.8L491.1 55.3L486.6 59.8zM483.1 55.4L487.6 50.9L492.1 55.4L487.6 59.9zM484.1 54.9L488.6 50.4L493.1 54.9L488.6 59.4zM485.1 55.0L489.6 50.5L494.1 55.0L489.6 59.5zM486.0 54.4L490.5 49.9L495.0 54.4L490.5 58.9zM487.0 54.5L491.5 50.0L496.0 54.5L491.5 59.0zM488.0 54.1L492.5 49.6L497.0 54.1L492.5 58.6zM489.0 54.2L493.5 49.7L498.0 54.2L493.5 58.7zM490.0 53.7L494.5 49.2L499.0 53.7L494.5 58.2zM490.9 53.8L495.4 49.3L499.9 53.8L495.4 58.3zM491.9 53.3L496.4 48.8L500.9 53.3L496.4 57.8zM492.9 53.4L497.4 48.9L501.9 53.4L497.4 57.9zM493.9 52.9L498.4 48.4L502.9 52.9L498.4 57.4zM494.9 53.0L499.4 48.5L503.9 53.0L499.4 57.5zM495.9 52.5L500.4 48.0L504.9 52.5L500.4 57.0zM496.8 52.6L501.3 48.1L505.8 52.6L501.3 57.1zM497.8 52.1L502.3 47.6L506.8 52.1L502.3 56.6zM498.8 52.2L503.3 47.7L507.8 52.2L503.3 56.7zM499.8 51.7L504.3 47.2L508.8 51.7L504.3 56.2zM500.8 51.8L505.3 47.3L509.8 51.8L505.3 56.3zM501.7 51.3L506.2 46.8L510.7 51.3L506.2 55.8zM502.7 51.4L507.2 46.9L511.7 51.4L507.2 55.9zM503.7 50.9L508.2 46.4L512.7 50.9L508.2 55.4zM504.7 51.0L509.2 46.5L513.7 51.0L509.2 55.5zM505.7 50.5L510.2 46.0L514.7 50.5L510.2 55.0zM506.6 50.6L511.1 46.1L515.6 50.6L511.1 55.1zM507.6 50.1L512.1 45.6L516.6 50.1L512.1 54.6zM508.6 50.2L513.1 45.7L517.6 50.2L513.1 54.7zM509.6 49.8L514.1 45.3L518.6 49.8L514.1 54.3zM510.6 49.8L515.1 45.3L519.6 49.8L515.1 54.3zM511.5 49.3L516.0 44.8L520.5 49.3L516.0 53.8zM512.5 49.3L517.0 44.8L521.5 49.3L517.0 53.8zM513.5 48.7L518.0 44.2L522.5 48.7L518.0 53.2zM514.4 48.8L518.9 44.3L523.4 48.8L518.9 53.3zM515.4 48.2L519.9 43.7L524.4 48.2L519.9 52.7zM516.3 48.3L520.8 43.8L525.3 48.3L520.8 52.8zM517.3 47.7L521.8 43.2L526.3 47.7L521.8 52.2zM518.3 47.7L522.8 43.2L527.3 47.7L522.8 52.2zM519.2 47.2L523.7 42.7L528.2 47.2L523.7 51.7zM520.2 47.2L524.7 42.7L529.2 47.2L524.7 51.7zM521.2 46.6L525.7 42.1L530.2 46.6L525.7 51.1zM522.1 46.6L526.6 42.1L531.1 46.6L526.6 51.1zM523.0 46.0L527.5 41.5L532.0 46.0L527.5 50.5zM524.0 45.9L528.5 41.4L533.0 45.9L528.5 50.4zM524.9 45.3L529.4 40.8L533.9 45.3L529.4 49.8zM525.9 45.3L530.4 40.8L534.9 45.3L530.4 49.8zM526.8 44.6L531.3 40.1L535.8 44.6L531.3 49.1zM527.8 44.6L532.3 40.1L536.8 44.6L532.3 49.1zM528.7 44.0L533.2 39.5L537.7 44.0L533.2 48.5zM529.7 43.9L534.2 39.4L538.7 43.9L534.2 48.4zM530.6 43.3L535.1 38.8L539.6 43.3L535.1 47.8zM531.6 43.4L536.1 38.9L540.6 43.4L536.1 47.9zM532.5 42.8L537.0 38.3L541.5 42.8L537.0 47.3zM533.5 42.9L538.0 38.4L542.5 42.9L538.0 47.4zM534.5 42.3L539.0 37.8L543.5 42.3L539.0 46.8zM535.4 42.4L539.9 37.9L544.4 42.4L539.9 46.9zM536.4 41.8L540.9 37.3L545.4 41.8L540.9 46.3zM537.4 41.9L541.9 37.4L546.4 41.9L541.9 46.4zM538.4 41.3L542.9 36.8L547.4 41.3L542.9 45.8zM539.3 41.4L543.8 36.9L548.3 41.4L543.8 45.9zM540.3 40.8L544.8 36.3L549.3 40.8L544.8 45.3zM541.3 40.9L545.8 36.4L550.3 40.9L545.8 45.4zM542.2 40.3L546.7 35.8L551.2 40.3L546.7 44.8zM543.2 40.4L547.7 35.9L552.2 40.4L547.7 44.9zM544.2 39.8L548.7 35.3L553.2 39.8L548.7 44.3zM545.1 39.9L549.6 35.4L554.1 39.9L549.6 44.4zM546.1 39.3L550.6 34.8L555.1 39.3L550.6 43.8zM547.1 39.4L551.6 34.9L556.1 39.4L551.6 43.9zM548.0 38.8L552.5 34.3L557.0 38.8L552.5 43.3zM549.0 38.9L553.5 34.4L558.0 38.9L553.5 43.4zM550.0 38.4L554.5 33.9L559.0 38.4L554.5 42.9zM550.9 38.4L555.4 33.9L559.9 38.4L555.4 42.9zM551.9 37.9L556.4 33.4L560.9 37.9L556.4 42.4zM552.9 37.9L557.4 33.4L561.9 37.9L557.4 42.4zM553.9 37.4L558.4 32.9L562.9 37.4L558.4 41.9zM554.8 37.5L559.3 33.0L563.8 37.5L559.3 42.0zM555.8 36.9L560.3 32.4L564.8 36.9L560.3 41.4zM556.8 37.0L561.3 32.5L565.8 37.0L561.3 41.5zM557.7 36.5L562.2 32.0L566.7 36.5L562.2 41.0zM558.7 36.5L563.2 32.0L567.7 36.5L563.2 41.0zM559.7 36.0L564.2 31.5L568.7 36.0L564.2 40.5zM560.7 36.0L565.2 31.5L569.7 36.0L565.2 40.5zM561.6 35.5L566.1 31.0L570.6 35.5L566.1 40.0zM562.6 35.6L567.1 31.1L571.6 35.6L567.1 40.1zM563.6 35.0L568.1 30.5L572.6 35.0L568.1 39.5zM564.5 35.1L569.0 30.6L573.5 35.1L569.0 39.6zM565.5 34.5L570.0 30.0L574.5 34.5L570.0 39.0zM566.5 34.6L571.0 30.1L575.5 34.6L571.0 39.1zM567.5 34.1L572.0 29.6L576.5 34.1L572.0 38.6zM568.4 34.2L572.9 29.7L577.4 34.2L572.9 38.7zM569.4 33.7L573.9 29.2L578.4 33.7L573.9 38.2zM570.4 33.7L574.9 29.2L579.4 33.7L574.9 38.2zM570.8 33.4L575.3 28.9L579.8 33.4L575.3 37.9zM576.9 41.0L581.4 36.5L585.9 41.0L581.4 45.5zM195.9 105.7L200.4 101.2L204.9 105.7L200.4 110.2z" fill="#9BBB59"/>
<polyline points="44.7,324.0 51.7,300.0 58.7,275.0 65.5,250.0 72.3,225.0 79.1,200.0 84.8,180.0 90.1,162.0 95.0,146.0 98.0,133.0 100.3,124.0 102.8,119.0 107.5,114.0 112.3,109.5 113.8,105.0 115.3,101.0 118.5,96.0 122.0,91.0 126.5,85.5 133.8,78.4 142.5,73.3 151.3,71.1 161.0,69.9 169.5,71.6 177.6,75.3 186.3,76.5 195.0,77.3 209.0,77.8 217.5,78.2 235.0,78.4 252.5,78.4 270.0,78.0 287.5,76.8 305.0,75.2 320.0,73.3 345.0,70.0 380.0,64.2 415.0,57.9 430.0,55.1 455.0,49.2 490.0,41.4 507.6,38.2 512.5,38.0 516.0,40.0 519.5,45.5 522.5,48.8 525.0,49.2 535.0,46.6 552.5,42.0 570.0,38.6 580.2,37.6" fill="none" stroke="#4F81BD" stroke-width="2" stroke-linejoin="round"/>
<polyline points="127.1,84.9 129.2,82.9 131.4,80.8 133.5,78.7 136.1,77.1 138.6,75.6 141.2,74.0 144.0,72.9 146.9,72.2 149.8,71.5 152.7,70.9 155.7,70.6 158.7,70.2 161.7,70.0 164.6,70.6 167.6,71.2 170.4,72.0 173.2,73.3 175.9,74.5 178.7,75.5 181.7,75.9 184.6,76.3 187.6,76.6 190.6,76.9 193.6,77.2 196.6,77.4 199.6,77.5 202.6,77.6 205.6,77.7 208.6,77.8 211.6,77.9 214.6,78.1 217.6,78.2 220.6,78.2 223.6,78.3 226.6,78.3 229.6,78.3 232.6,78.4 235.6,78.4 238.6,78.4 241.6,78.4 244.6,78.4 247.6,78.4 250.6,78.4 253.6,78.4 256.6,78.3 259.6,78.2 262.6,78.2 265.6,78.1 268.6,78.0 271.6,77.9 274.6,77.7 277.5,77.5 280.5,77.3 283.5,77.1 286.5,76.9 289.5,76.6 292.5,76.3 295.5,76.1 298.5,75.8 301.5,75.5 304.5,75.2 307.4,74.9 310.4,74.5 313.4,74.1 316.4,73.8 319.3,73.4 322.3,73.0 325.3,72.6 328.3,72.2 331.2,71.8 334.2,71.4 337.2,71.0 340.2,70.6 343.1,70.2 346.1,69.8 349.1,69.3 352.0,68.8 355.0,68.3 357.9,67.9 360.9,67.4 363.9,66.9 366.8,66.4 369.8,65.9 372.7,65.4 375.7,64.9 378.7,64.4 381.6,63.9 384.6,63.4 387.5,62.8 390.5,62.3 393.4,61.8 396.4,61.3 399.3,60.7 402.3,60.2 405.2,59.7 408.2,59.1 411.1,58.6 414.1,58.1 417.0,57.5 420.0,57.0 422.9,56.4 425.9,55.9 428.8,55.3 431.8,54.7 434.7,54.0 437.6,53.3 440.5,52.6 443.4,51.9 446.4,51.2 449.3,50.5 452.2,49.9 455.1,49.2 458.1,48.5 461.0,47.9 463.9,47.2 466.8,46.6 469.8,45.9 472.7,45.3 475.6,44.6 478.6,44.0 481.5,43.3 484.4,42.6 487.3,42.0 490.3,41.4 493.2,40.8 496.2,40.3 499.1,39.7 502.1,39.2 505.0,38.7 508.0,38.2 511.0,38.1 513.8,38.7 516.2,40.4 517.9,42.9 519.5,45.4 521.5,47.7 523.9,49.0 526.9,48.7 529.8,48.0 532.7,47.2 535.6,46.4 538.5,45.7 541.4,44.9 544.3,44.2 547.2,43.4 550.1,42.6 553.0,41.9 555.9,41.3 558.9,40.8 561.8,40.2 564.8,39.6 567.7,39.0 570.7,38.5 573.7,38.2 576.7,37.9 579.6,37.7 580.2,37.6" fill="none" stroke="#4F81BD" stroke-width="8.4" stroke-linejoin="round"/>
<path d="M44.7 319.5L49.5 328.5L39.9 328.5zM45.7 316.0L50.5 325.0L40.9 325.0zM46.7 312.6L51.5 321.6L41.9 321.6zM47.7 309.1L52.5 318.1L42.9 318.1zM48.7 305.7L53.5 314.7L43.9 314.7zM49.7 302.2L54.5 311.2L44.9 311.2zM50.7 298.8L55.5 307.8L45.9 307.8zM51.8 295.3L56.6 304.3L47.0 304.3zM52.7 291.8L57.5 300.8L47.9 300.8zM53.7 288.4L58.5 297.4L48.9 297.4zM54.7 284.9L59.5 293.9L49.9 293.9zM55.6 281.4L60.4 290.4L50.8 290.4zM56.6 278.0L61.4 287.0L51.8 287.0zM57.6 274.5L62.4 283.5L52.8 283.5zM58.5 271.0L63.3 280.0L53.7 280.0zM59.5 267.6L64.3 276.6L54.7 276.6zM60.4 264.1L65.2 273.1L55.6 273.1zM61.4 260.6L66.2 269.6L56.6 269.6zM62.3 257.1L67.1 266.1L57.5 266.1zM63.3 253.7L68.1 262.7L58.5 262.7zM64.2 250.2L69.0 259.2L59.4 259.2zM65.2 246.7L70.0 255.7L60.4 255.7zM66.1 243.3L70.9 252.3L61.3 252.3zM67.1 239.8L71.9 248.8L62.3 248.8zM68.0 236.3L72.8 245.3L63.2 245.3zM68.9 232.8L73.7 241.8L64.1 241.8zM69.9 229.4L74.7 238.4L65.1 238.4zM70.8 225.9L75.6 234.9L66.0 234.9zM71.8 222.4L76.6 231.4L67.0 231.4zM72.7 218.9L77.5 227.9L67.9 227.9zM73.7 215.5L78.5 224.5L68.9 224.5zM74.6 212.0L79.4 221.0L69.8 221.0zM75.6 208.5L80.4 217.5L70.8 217.5zM76.5 205.0L81.3 214.0L71.7 214.0zM77.5 201.6L82.3 210.6L72.7 210.6zM78.4 198.1L83.2 207.1L73.6 207.1zM79.4 194.6L84.2 203.6L74.6 203.6zM80.3 191.2L85.1 200.2L75.5 200.2zM81.3 187.7L86.1 196.7L76.5 196.7zM82.3 184.2L87.1 193.2L77.5 193.2zM83.3 180.8L88.1 189.8L78.5 189.8zM84.3 177.3L89.1 186.3L79.5 186.3zM85.3 173.9L90.1 182.9L80.5 182.9zM86.3 170.4L91.1 179.4L81.5 179.4zM87.3 166.9L92.1 175.9L82.5 175.9zM88.3 163.5L93.1 172.5L83.5 172.5zM89.4 160.0L94.2 169.0L84.6 169.0zM90.4 156.6L95.2 165.6L85.6 165.6zM91.4 153.1L96.2 162.1L86.6 162.1zM92.5 149.7L97.3 158.7L87.7 158.7zM93.5 146.3L98.3 155.3L88.7 155.3zM94.6 142.8L99.4 151.8L89.8 151.8zM95.5 139.3L100.3 148.3L90.7 148.3zM96.3 135.8L101.1 144.8L91.5 144.8zM97.1 132.3L101.9 141.3L92.3 141.3zM97.9 128.8L102.7 137.8L93.1 137.8zM98.8 125.3L103.6 134.3L94.0 134.3zM99.7 121.8L104.5 130.8L94.9 130.8zM100.8 118.4L105.6 127.4L96.0 127.4zM102.4 115.2L107.2 124.2L97.6 124.2zM104.7 112.5L109.5 121.5L99.9 121.5zM107.2 109.8L112.0 118.8L102.4 118.8zM109.8 107.4L114.6 116.4L105.0 116.4zM112.3 104.9L117.1 113.9L107.5 113.9zM113.5 101.4L118.3 110.4L108.7 110.4zM114.7 98.1L119.5 107.1L109.9 107.1zM116.3 94.9L121.1 103.9L111.5 103.9zM118.3 91.8L123.1 100.8L113.5 100.8zM120.3 88.9L125.1 97.9L115.5 97.9zM122.4 86.0L127.2 95.0L117.6 95.0zM124.7 83.2L129.5 92.2L119.9 92.2zM127.1 80.6L131.9 89.6L122.3 89.6zM127.8 79.6L132.6 88.6L123.0 88.6zM128.5 79.2L133.3 88.2L123.7 88.2zM129.2 78.2L134.0 87.2L124.4 87.2zM129.9 77.8L134.7 86.8L125.1 86.8zM130.7 76.8L135.5 85.8L125.9 85.8zM131.4 76.4L136.2 85.4L126.6 85.4zM132.1 75.4L136.9 84.4L127.3 84.4zM132.8 75.0L137.6 84.0L128.0 84.0zM133.5 74.1L138.3 83.1L128.7 83.1zM134.3 73.7L139.1 82.7L129.5 82.7zM135.2 73.0L140.0 82.0L130.4 82.0zM136.1 72.7L140.9 81.7L131.3 81.7zM136.9 72.0L141.7 81.0L132.1 81.0zM137.8 71.7L142.6 80.7L133.0 80.7zM138.6 70.9L143.4 79.9L133.8 79.9zM139.5 70.7L144.3 79.7L134.7 79.7zM140.4 69.9L145.2 78.9L135.6 78.9zM141.2 69.7L146.0 78.7L136.4 78.7zM142.1 68.9L146.9 77.9L137.3 77.9zM143.0 68.8L147.8 77.8L138.2 77.8zM144.0 68.3L148.8 77.3L139.2 77.3zM145.0 68.3L149.8 77.3L140.2 77.3zM145.9 67.8L150.7 76.8L141.1 76.8zM146.9 67.8L151.7 76.8L142.1 76.8zM147.9 67.3L152.7 76.3L143.1 76.3zM148.8 67.3L153.6 76.3L144.0 76.3zM149.8 66.9L154.6 75.9L145.0 75.9zM150.8 66.9L155.6 75.9L146.0 75.9zM151.8 66.4L156.6 75.4L147.0 75.4zM152.7 66.5L157.5 75.5L147.9 75.5zM153.7 66.2L158.5 75.2L148.9 75.2zM154.7 66.3L159.5 75.3L149.9 75.3zM155.7 65.9L160.5 74.9L150.9 74.9zM156.7 66.1L161.5 75.1L151.9 75.1zM157.7 65.7L162.5 74.7L152.9 74.7zM158.7 65.8L163.5 74.8L153.9 74.8zM159.7 65.4L164.5 74.4L154.9 74.4zM160.7 65.6L165.5 74.6L155.9 74.6zM161.7 65.4L166.5 74.4L156.9 74.4zM162.7 65.9L167.5 74.9L157.9 74.9zM163.6 65.8L168.4 74.8L158.8 74.8zM164.6 66.2L169.4 75.2L159.8 75.2zM165.6 66.2L170.4 75.2L160.8 75.2zM166.6 66.6L171.4 75.6L161.8 75.6zM167.6 66.6L172.4 75.6L162.8 75.6zM168.5 67.0L173.3 76.0L163.7 76.0zM169.5 67.0L174.3 76.0L164.7 76.0zM170.4 67.6L175.2 76.6L165.6 76.6zM171.3 67.8L176.1 76.8L166.5 76.8zM172.2 68.5L177.0 77.5L167.4 77.5zM173.2 68.6L178.0 77.6L168.4 77.6zM174.1 69.3L178.9 78.3L169.3 78.3zM175.0 69.5L179.8 78.5L170.2 78.5zM175.9 70.1L180.7 79.1L171.1 79.1zM176.8 70.3L181.6 79.3L172.0 79.3zM177.7 70.9L182.5 79.9L172.9 79.9zM178.7 70.8L183.5 79.8L173.9 79.8zM179.7 71.2L184.5 80.2L174.9 80.2zM180.7 71.1L185.5 80.1L175.9 80.1zM181.7 71.5L186.5 80.5L176.9 80.5zM182.7 71.4L187.5 80.4L177.9 80.4zM183.7 71.8L188.5 80.8L178.9 80.8zM184.6 71.7L189.4 80.7L179.8 80.7zM185.6 72.0L190.4 81.0L180.8 81.0zM186.6 71.9L191.4 80.9L181.8 80.9zM187.6 72.2L192.4 81.2L182.8 81.2zM188.6 72.1L193.4 81.1L183.8 81.1zM189.6 72.4L194.4 81.4L184.8 81.4zM190.6 72.3L195.4 81.3L185.8 81.3zM191.6 72.6L196.4 81.6L186.8 81.6zM192.6 72.5L197.4 81.5L187.8 81.5zM193.6 72.8L198.4 81.8L188.8 81.8zM194.6 72.6L199.4 81.6L189.8 81.6zM195.6 72.9L200.4 81.9L190.8 81.9zM196.6 72.7L201.4 81.7L191.8 81.7zM197.6 73.0L202.4 82.0L192.8 82.0zM198.6 72.8L203.4 81.8L193.8 81.8zM199.6 73.1L204.4 82.1L194.8 82.1zM200.6 72.9L205.4 81.9L195.8 81.9zM201.6 73.2L206.4 82.2L196.8 82.2zM202.6 73.0L207.4 82.0L197.8 82.0zM203.6 73.2L208.4 82.2L198.8 82.2zM204.6 73.0L209.4 82.0L199.8 82.0zM205.6 73.3L210.4 82.3L200.8 82.3zM206.6 73.1L211.4 82.1L201.8 82.1zM207.6 73.4L212.4 82.4L202.8 82.4zM208.6 73.2L213.4 82.2L203.8 82.2zM209.6 73.4L214.4 82.4L204.8 82.4zM210.6 73.3L215.4 82.3L205.8 82.3zM211.6 73.5L216.4 82.5L206.8 82.5zM212.6 73.3L217.4 82.3L207.8 82.3zM213.6 73.6L218.4 82.6L208.8 82.6zM214.6 73.4L219.4 82.4L209.8 82.4zM215.6 73.7L220.4 82.7L210.8 82.7zM216.6 73.5L221.4 82.5L211.8 82.5zM217.6 73.8L222.4 82.8L212.8 82.8zM218.6 73.6L223.4 82.6L213.8 82.6zM219.6 73.8L224.4 82.8L214.8 82.8zM220.6 73.6L225.4 82.6L215.8 82.6zM221.6 73.9L226.4 82.9L216.8 82.9zM222.6 73.6L227.4 82.6L217.8 82.6zM223.6 73.9L228.4 82.9L218.8 82.9zM224.6 73.7L229.4 82.7L219.8 82.7zM225.6 73.9L230.4 82.9L220.8 82.9zM226.6 73.7L231.4 82.7L221.8 82.7zM227.6 73.9L232.4 82.9L222.8 82.9zM228.6 73.7L233.4 82.7L223.8 82.7zM229.6 74.0L234.4 83.0L224.8 83.0zM230.6 73.7L235.4 82.7L225.8 82.7zM231.6 74.0L236.4 83.0L226.8 83.0zM232.6 73.8L237.4 82.8L227.8 82.8zM233.6 74.0L238.4 83.0L228.8 83.0zM234.6 73.8L239.4 82.8L229.8 82.8zM235.6 74.0L240.4 83.0L230.8 83.0zM236.6 73.8L241.4 82.8L231.8 82.8zM237.6 74.0L242.4 83.0L232.8 83.0zM238.6 73.8L243.4 82.8L233.8 82.8zM239.6 74.0L244.4 83.0L234.8 83.0zM240.6 73.8L245.4 82.8L235.8 82.8zM241.6 74.0L246.4 83.0L236.8 83.0zM242.6 73.8L247.4 82.8L237.8 82.8zM243.6 74.0L248.4 83.0L238.8 83.0zM244.6 73.8L249.4 82.8L239.8 82.8zM245.6 74.0L250.4 83.0L240.8 83.0zM246.6 73.8L251.4 82.8L241.8 82.8zM247.6 74.0L252.4 83.0L242.8 83.0zM248.6 73.8L253.4 82.8L243.8 82.8zM249.6 74.0L254.4 83.0L244.8 83.0zM250.6 73.8L255.4 82.8L245.8 82.8zM251.6 74.0L256.4 83.0L246.8 83.0zM252.6 73.8L257.4 82.8L247.8 82.8zM253.6 74.0L258.4 83.0L248.8 83.0zM254.6 73.7L259.4 82.7L249.8 82.7zM255.6 73.9L260.4 82.9L250.8 82.9zM256.6 73.7L261.4 82.7L251.8 82.7zM257.6 73.9L262.4 82.9L252.8 82.9zM258.6 73.6L263.4 82.6L253.8 82.6zM259.6 73.9L264.4 82.9L254.8 82.9zM260.6 73.6L265.4 82.6L255.8 82.6zM261.6 73.8L266.4 82.8L256.8 82.8zM262.6 73.5L267.4 82.5L257.8 82.5zM263.6 73.8L268.4 82.8L258.8 82.8zM264.6 73.5L269.4 82.5L259.8 82.5zM265.6 73.7L270.4 82.7L260.8 82.7zM266.6 73.5L271.4 82.5L261.8 82.5zM267.6 73.7L272.4 82.7L262.8 82.7zM268.6 73.4L273.4 82.4L263.8 82.4zM269.6 73.6L274.4 82.6L264.8 82.6zM270.6 73.3L275.4 82.3L265.8 82.3zM271.6 73.5L276.4 82.5L266.8 82.5zM272.6 73.2L277.4 82.2L267.8 82.2zM273.6 73.4L278.4 82.4L268.8 82.4zM274.6 73.1L279.4 82.1L269.8 82.1zM275.6 73.2L280.4 82.2L270.8 82.2zM276.6 72.9L281.4 81.9L271.8 81.9zM277.5 73.1L282.3 82.1L272.7 82.1zM278.5 72.8L283.3 81.8L273.7 81.8zM279.5 73.0L284.3 82.0L274.7 82.0zM280.5 72.7L285.3 81.7L275.7 81.7zM281.5 72.8L286.3 81.8L276.7 81.8zM282.5 72.5L287.3 81.5L277.7 81.5zM283.5 72.7L288.3 81.7L278.7 81.7zM284.5 72.4L289.3 81.4L279.7 81.4zM285.5 72.6L290.3 81.6L280.7 81.6zM286.5 72.2L291.3 81.2L281.7 81.2zM287.5 72.4L292.3 81.4L282.7 81.4zM288.5 72.1L293.3 81.1L283.7 81.1zM289.5 72.2L294.3 81.2L284.7 81.2zM290.5 71.9L295.3 80.9L285.7 80.9zM291.5 72.1L296.3 81.1L286.7 81.1zM292.5 71.7L297.3 80.7L287.7 80.7zM293.5 71.9L298.3 80.9L288.7 80.9zM294.5 71.5L299.3 80.5L289.7 80.5zM295.5 71.7L300.3 80.7L290.7 80.7zM296.5 71.4L301.3 80.4L291.7 80.4zM297.5 71.5L302.3 80.5L292.7 80.5zM298.5 71.2L303.3 80.2L293.7 80.2zM299.5 71.3L304.3 80.3L294.7 80.3zM300.5 71.0L305.3 80.0L295.7 80.0zM301.5 71.1L306.3 80.1L296.7 80.1zM302.5 70.8L307.3 79.8L297.7 79.8zM303.5 71.0L308.3 80.0L298.7 80.0zM304.5 70.6L309.3 79.6L299.7 79.6zM305.4 70.8L310.2 79.8L300.6 79.8zM306.4 70.4L311.2 79.4L301.6 79.4zM307.4 70.5L312.2 79.5L302.6 79.5zM308.4 70.1L313.2 79.1L303.6 79.1zM309.4 70.3L314.2 79.3L304.6 79.3zM310.4 69.9L315.2 78.9L305.6 78.9zM311.4 70.0L316.2 79.0L306.6 79.0zM312.4 69.6L317.2 78.6L307.6 78.6zM313.4 69.8L318.2 78.8L308.6 78.8zM314.4 69.4L319.2 78.4L309.6 78.4zM315.4 69.5L320.2 78.5L310.6 78.5zM316.4 69.1L321.2 78.1L311.6 78.1zM317.4 69.3L322.2 78.3L312.6 78.3zM318.3 68.9L323.1 77.9L313.5 77.9zM319.3 69.0L324.1 78.0L314.5 78.0zM320.3 68.6L325.1 77.6L315.5 77.6zM321.3 68.7L326.1 77.7L316.5 77.7zM322.3 68.4L327.1 77.4L317.5 77.4zM323.3 68.5L328.1 77.5L318.5 77.5zM324.3 68.1L329.1 77.1L319.5 77.1zM325.3 68.2L330.1 77.2L320.5 77.2zM326.3 67.9L331.1 76.9L321.5 76.9zM327.3 68.0L332.1 77.0L322.5 77.0zM328.3 67.6L333.1 76.6L323.5 76.6zM329.3 67.7L334.1 76.7L324.5 76.7zM330.2 67.3L335.0 76.3L325.4 76.3zM331.2 67.4L336.0 76.4L326.4 76.4zM332.2 67.1L337.0 76.1L327.4 76.1zM333.2 67.2L338.0 76.2L328.4 76.2zM334.2 66.8L339.0 75.8L329.4 75.8zM335.2 66.9L340.0 75.9L330.4 75.9zM336.2 66.5L341.0 75.5L331.4 75.5zM337.2 66.7L342.0 75.7L332.4 75.7zM338.2 66.3L343.0 75.3L333.4 75.3zM339.2 66.4L344.0 75.4L334.4 75.4zM340.2 66.0L345.0 75.0L335.4 75.0zM341.1 66.1L345.9 75.1L336.3 75.1zM342.1 65.8L346.9 74.8L337.3 74.8zM343.1 65.9L347.9 74.9L338.3 74.9zM344.1 65.5L348.9 74.5L339.3 74.5zM345.1 65.6L349.9 74.6L340.3 74.6zM346.1 65.2L350.9 74.2L341.3 74.2zM347.1 65.3L351.9 74.3L342.3 74.3zM348.1 64.9L352.9 73.9L343.3 73.9zM349.1 64.9L353.9 73.9L344.3 73.9zM350.0 64.5L354.8 73.5L345.2 73.5zM351.0 64.6L355.8 73.6L346.2 73.6zM352.0 64.2L356.8 73.2L347.2 73.2zM353.0 64.3L357.8 73.3L348.2 73.3zM354.0 63.9L358.8 72.9L349.2 72.9zM355.0 64.0L359.8 73.0L350.2 73.0zM356.0 63.6L360.8 72.6L351.2 72.6zM357.0 63.6L361.8 72.6L352.2 72.6zM357.9 63.2L362.7 72.2L353.1 72.2zM358.9 63.3L363.7 72.3L354.1 72.3zM359.9 62.9L364.7 71.9L355.1 71.9zM360.9 63.0L365.7 72.0L356.1 72.0zM361.9 62.6L366.7 71.6L357.1 71.6zM362.9 62.7L367.7 71.7L358.1 71.7zM363.9 62.3L368.7 71.3L359.1 71.3zM364.8 62.3L369.6 71.3L360.0 71.3zM365.8 61.9L370.6 70.9L361.0 70.9zM366.8 62.0L371.6 71.0L362.0 71.0zM367.8 61.6L372.6 70.6L363.0 70.6zM368.8 61.7L373.6 70.7L364.0 70.7zM369.8 61.3L374.6 70.3L365.0 70.3zM370.8 61.4L375.6 70.4L366.0 70.4zM371.8 60.9L376.6 69.9L367.0 69.9zM372.7 61.0L377.5 70.0L367.9 70.0zM373.7 60.6L378.5 69.6L368.9 69.6zM374.7 60.7L379.5 69.7L369.9 69.7zM375.7 60.3L380.5 69.3L370.9 69.3zM376.7 60.4L381.5 69.4L371.9 69.4zM377.7 60.0L382.5 69.0L372.9 69.0zM378.7 60.0L383.5 69.0L373.9 69.0zM379.6 59.6L384.4 68.6L374.8 68.6zM380.6 59.7L385.4 68.7L375.8 68.7zM381.6 59.3L386.4 68.3L376.8 68.3zM382.6 59.4L387.4 68.4L377.8 68.4zM383.6 58.9L388.4 67.9L378.8 67.9zM384.6 59.0L389.4 68.0L379.8 68.0zM385.5 58.6L390.3 67.6L380.7 67.6zM386.5 58.6L391.3 67.6L381.7 67.6zM387.5 58.2L392.3 67.2L382.7 67.2zM388.5 58.3L393.3 67.3L383.7 67.3zM389.5 57.9L394.3 66.9L384.7 66.9zM390.5 57.9L395.3 66.9L385.7 66.9zM391.5 57.5L396.3 66.5L386.7 66.5zM392.4 57.6L397.2 66.6L387.6 66.6zM393.4 57.2L398.2 66.2L388.6 66.2zM394.4 57.2L399.2 66.2L389.6 66.2zM395.4 56.8L400.2 65.8L390.6 65.8zM396.4 56.9L401.2 65.9L391.6 65.9zM397.4 56.5L402.2 65.5L392.6 65.5zM398.3 56.5L403.1 65.5L393.5 65.5zM399.3 56.1L404.1 65.1L394.5 65.1zM400.3 56.2L405.1 65.2L395.5 65.2zM401.3 55.7L406.1 64.7L396.5 64.7zM402.3 55.8L407.1 64.8L397.5 64.8zM403.3 55.4L408.1 64.4L398.5 64.4zM404.2 55.5L409.0 64.5L399.4 64.5zM405.2 55.0L410.0 64.0L400.4 64.0zM406.2 55.1L411.0 64.1L401.4 64.1zM407.2 54.7L412.0 63.7L402.4 63.7zM408.2 54.7L413.0 63.7L403.4 63.7zM409.2 54.3L414.0 63.3L404.4 63.3zM410.2 54.4L415.0 63.4L405.4 63.4zM411.1 54.0L415.9 63.0L406.3 63.0zM412.1 54.0L416.9 63.0L407.3 63.0zM413.1 53.6L417.9 62.6L408.3 62.6zM414.1 53.7L418.9 62.7L409.3 62.7zM415.1 53.3L419.9 62.3L410.3 62.3zM416.1 53.3L420.9 62.3L411.3 62.3zM417.0 52.9L421.8 61.9L412.2 61.9zM418.0 53.0L422.8 62.0L413.2 62.0zM419.0 52.5L423.8 61.5L414.2 61.5zM420.0 52.6L424.8 61.6L415.2 61.6zM421.0 52.2L425.8 61.2L416.2 61.2zM422.0 52.2L426.8 61.2L417.2 61.2zM422.9 51.8L427.7 60.8L418.1 60.8zM423.9 51.9L428.7 60.9L419.1 60.9zM424.9 51.4L429.7 60.4L420.1 60.4zM425.9 51.5L430.7 60.5L421.1 60.5zM426.9 51.1L431.7 60.1L422.1 60.1zM427.9 51.1L432.7 60.1L423.1 60.1zM428.8 50.7L433.6 59.7L424.0 59.7zM429.8 50.8L434.6 59.8L425.0 59.8zM430.8 50.3L435.6 59.3L426.0 59.3zM431.8 50.3L436.6 59.3L427.0 59.3zM432.7 49.8L437.5 58.8L427.9 58.8zM433.7 49.8L438.5 58.8L428.9 58.8zM434.7 49.4L439.5 58.4L429.9 58.4zM435.7 49.4L440.5 58.4L430.9 58.4zM436.6 48.9L441.4 57.9L431.8 57.9zM437.6 48.9L442.4 57.9L432.8 57.9zM438.6 48.5L443.4 57.5L433.8 57.5zM439.6 48.5L444.4 57.5L434.8 57.5zM440.5 48.0L445.3 57.0L435.7 57.0zM441.5 48.0L446.3 57.0L436.7 57.0zM442.5 47.5L447.3 56.5L437.7 56.5zM443.4 47.5L448.2 56.5L438.6 56.5zM444.4 47.1L449.2 56.1L439.6 56.1zM445.4 47.1L450.2 56.1L440.6 56.1zM446.4 46.6L451.2 55.6L441.6 55.6zM447.3 46.6L452.1 55.6L442.5 55.6zM448.3 46.2L453.1 55.2L443.5 55.2zM449.3 46.2L454.1 55.2L444.5 55.2zM450.3 45.7L455.1 54.7L445.5 54.7zM451.2 45.7L456.0 54.7L446.4 54.7zM452.2 45.2L457.0 54.2L447.4 54.2zM453.2 45.2L458.0 54.2L448.4 54.2zM454.2 44.8L459.0 53.8L449.4 53.8zM455.1 44.8L459.9 53.8L450.3 53.8zM456.1 44.3L460.9 53.3L451.3 53.3zM457.1 44.4L461.9 53.4L452.3 53.4zM458.1 43.9L462.9 52.9L453.3 52.9zM459.0 43.9L463.8 52.9L454.2 52.9zM460.0 43.5L464.8 52.5L455.2 52.5zM461.0 43.5L465.8 52.5L456.2 52.5zM462.0 43.0L466.8 52.0L457.2 52.0zM462.9 43.1L467.7 52.1L458.1 52.1zM463.9 42.6L468.7 51.6L459.1 51.6zM464.9 42.6L469.7 51.6L460.1 51.6zM465.9 42.2L470.7 51.2L461.1 51.2zM466.8 42.2L471.6 51.2L462.0 51.2zM467.8 41.7L472.6 50.7L463.0 50.7zM468.8 41.7L473.6 50.7L464.0 50.7zM469.8 41.3L474.6 50.3L465.0 50.3zM470.7 41.3L475.5 50.3L465.9 50.3zM471.7 40.9L476.5 49.9L466.9 49.9zM472.7 40.9L477.5 49.9L467.9 49.9zM473.7 40.4L478.5 49.4L468.9 49.4zM474.6 40.4L479.4 49.4L469.8 49.4zM475.6 40.0L480.4 49.0L470.8 49.0zM476.6 40.0L481.4 49.0L471.8 49.0zM477.6 39.5L482.4 48.5L472.8 48.5zM478.6 39.6L483.4 48.6L473.8 48.6zM479.5 39.1L484.3 48.1L474.7 48.1zM480.5 39.1L485.3 48.1L475.7 48.1zM481.5 38.7L486.3 47.7L476.7 47.7zM482.5 38.7L487.3 47.7L477.7 47.7zM483.4 38.2L488.2 47.2L478.6 47.2zM484.4 38.3L489.2 47.3L479.6 47.3zM485.4 37.8L490.2 46.8L480.6 46.8zM486.4 37.8L491.2 46.8L481.6 46.8zM487.3 37.4L492.1 46.4L482.5 46.4zM488.3 37.4L493.1 46.4L483.5 46.4zM489.3 36.9L494.1 45.9L484.5 45.9zM490.3 37.0L495.1 46.0L485.5 46.0zM491.3 36.6L496.1 45.6L486.5 45.6zM492.2 36.6L497.0 45.6L487.4 45.6zM493.2 36.2L498.0 45.2L488.4 45.2zM494.2 36.3L499.0 45.3L489.4 45.3zM495.2 35.8L500.0 44.8L490.4 44.8zM496.2 35.9L501.0 44.9L491.4 44.9zM497.2 35.5L502.0 44.5L492.4 44.5zM498.1 35.5L502.9 44.5L493.3 44.5zM499.1 35.1L503.9 44.1L494.3 44.1zM500.1 35.2L504.9 44.2L495.3 44.2zM501.1 34.8L505.9 43.8L496.3 43.8zM502.1 34.8L506.9 43.8L497.3 43.8zM503.1 34.4L507.9 43.4L498.3 43.4zM504.0 34.5L508.8 43.5L499.2 43.5zM505.0 34.0L509.8 43.0L500.2 43.0zM506.0 34.1L510.8 43.1L501.2 43.1zM507.0 33.7L511.8 42.7L502.2 42.7zM508.0 33.8L512.8 42.8L503.2 42.8zM509.0 33.5L513.8 42.5L504.2 42.5zM510.0 33.7L514.8 42.7L505.2 42.7zM511.0 33.4L515.8 42.4L506.2 42.4zM512.0 33.6L516.8 42.6L507.2 42.6zM512.9 33.6L517.7 42.6L508.1 42.6zM513.8 34.4L518.6 43.4L509.0 43.4zM514.7 34.6L519.5 43.6L509.9 43.6zM515.5 35.3L520.3 44.3L510.7 44.3zM516.2 35.8L521.0 44.8L511.4 44.8zM516.8 36.8L521.6 45.8L512.0 45.8zM517.3 37.4L522.1 46.4L512.5 46.4zM517.9 38.5L522.7 47.5L513.1 47.5zM518.4 39.1L523.2 48.1L513.6 48.1zM518.9 40.2L523.7 49.2L514.1 49.2zM519.5 40.8L524.3 49.8L514.7 49.8zM520.1 41.8L524.9 50.8L515.3 50.8zM520.8 42.3L525.6 51.3L516.0 51.3zM521.5 43.3L526.3 52.3L516.7 52.3zM522.1 43.8L526.9 52.8L517.3 52.8zM523.0 44.5L527.8 53.5L518.2 53.5zM523.9 44.4L528.7 53.4L519.1 53.4zM524.9 44.8L529.7 53.8L520.1 53.8zM525.9 44.3L530.7 53.3L521.1 53.3zM526.9 44.3L531.7 53.3L522.1 53.3zM527.8 43.8L532.6 52.8L523.0 52.8zM528.8 43.8L533.6 52.8L524.0 52.8zM529.8 43.3L534.6 52.3L525.0 52.3zM530.7 43.3L535.5 52.3L525.9 52.3zM531.7 42.8L536.5 51.8L526.9 51.8zM532.7 42.8L537.5 51.8L527.9 51.8zM533.6 42.3L538.4 51.3L528.8 51.3zM534.6 42.3L539.4 51.3L529.8 51.3zM535.6 41.8L540.4 50.8L530.8 50.8zM536.6 41.8L541.4 50.8L531.8 50.8zM537.5 41.3L542.3 50.3L532.7 50.3zM538.5 41.3L543.3 50.3L533.7 50.3zM539.5 40.8L544.3 49.8L534.7 49.8zM540.4 40.8L545.2 49.8L535.6 49.8zM541.4 40.3L546.2 49.3L536.6 49.3zM542.4 40.3L547.2 49.3L537.6 49.3zM543.3 39.8L548.1 48.8L538.5 48.8zM544.3 39.8L549.1 48.8L539.5 48.8zM545.3 39.3L550.1 48.3L540.5 48.3zM546.2 39.3L551.0 48.3L541.4 48.3zM547.2 38.8L552.0 47.8L542.4 47.8zM548.2 38.8L553.0 47.8L543.4 47.8zM549.1 38.3L553.9 47.3L544.3 47.3zM550.1 38.3L554.9 47.3L545.3 47.3zM551.1 37.8L555.9 46.8L546.3 46.8zM552.0 37.7L556.8 46.7L547.2 46.7zM553.0 37.3L557.8 46.3L548.2 46.3zM554.0 37.3L558.8 46.3L549.2 46.3zM555.0 36.9L559.8 45.9L550.2 45.9zM555.9 37.0L560.7 46.0L551.1 46.0zM556.9 36.5L561.7 45.5L552.1 45.5zM557.9 36.6L562.7 45.6L553.1 45.6zM558.9 36.1L563.7 45.1L554.1 45.1zM559.9 36.2L564.7 45.2L555.1 45.2zM560.9 35.8L565.7 44.8L556.1 44.8zM561.8 35.8L566.6 44.8L557.0 44.8zM562.8 35.4L567.6 44.4L558.0 44.4zM563.8 35.4L568.6 44.4L559.0 44.4zM564.8 35.0L569.6 44.0L560.0 44.0zM565.8 35.0L570.6 44.0L561.0 44.0zM566.7 34.6L571.5 43.6L561.9 43.6zM567.7 34.7L572.5 43.7L562.9 43.7zM568.7 34.2L573.5 43.2L563.9 43.2zM569.7 34.3L574.5 43.3L564.9 43.3zM570.7 33.9L575.5 42.9L565.9 42.9zM571.7 34.1L576.5 43.1L566.9 43.1zM572.7 33.7L577.5 42.7L567.9 42.7zM573.7 33.9L578.5 42.9L568.9 42.9zM574.7 33.5L579.5 42.5L569.9 42.5zM575.7 33.7L580.5 42.7L570.9 42.7zM576.7 33.3L581.5 42.3L571.9 42.3zM577.6 33.5L582.4 42.5L572.8 42.5zM578.6 33.1L583.4 42.1L573.8 42.1zM579.6 33.3L584.4 42.3L574.8 42.3zM580.2 33.0L585.0 42.0L575.4 42.0zM120.1 90.2L124.9 99.2L115.3 99.2zM124.5 86.8L129.3 95.8L119.7 95.8zM128.9 83.7L133.7 92.7L124.1 92.7zM143.8 70.7L148.6 79.7L139.0 79.7zM138.5 74.1L143.3 83.1L133.7 83.1z" fill="#4F81BD"/>
<g font-family="'Liberation Serif', serif" font-weight="bold" font-size="16.3" fill="#5e5e5e" stroke="#5e5e5e" stroke-width="0.3" stroke-linejoin="round">
<text x="30.6" y="329.3" text-anchor="end">0</text>
<text x="30.6" y="289.8" text-anchor="end">1</text>
<text x="30.6" y="250.3" text-anchor="end">2</text>
<text x="30.6" y="210.8" text-anchor="end">3</text>
<text x="30.6" y="171.3" text-anchor="end">4</text>
<text x="30.6" y="131.9" text-anchor="end">5</text>
<text x="30.6" y="92.4" text-anchor="end">6</text>
<text x="30.6" y="52.9" text-anchor="end">7</text>
<text x="30.6" y="13.4" text-anchor="end">8</text>
<text x="44.6" y="348.2" text-anchor="middle">0</text>
<text x="149.3" y="348.2" text-anchor="middle">0.2</text>
<text x="254.1" y="348.2" text-anchor="middle">0.4</text>
<text x="358.8" y="348.2" text-anchor="middle">0.6</text>
<text x="463.5" y="348.2" text-anchor="middle">0.8</text>
<text x="568.3" y="348.2" text-anchor="middle">1</text>
<text x="673.0" y="348.2" text-anchor="middle">1.2</text>
<text x="359" y="372.1" text-anchor="middle" font-size="16.6">Displacement (mm)</text>
<text transform="translate(14.2,165.6) rotate(-90)" text-anchor="middle">P (kN)</text>
<line x1="464.2" y1="191.1" x2="496.2" y2="191.1" stroke="#C0504D" stroke-width="2"/>
<path d="M475.2 191.1a4.65 4.65 0 1 0 9.3 0a4.65 4.65 0 1 0 -9.3 0z" fill="#C0504D" stroke="none"/>
<text x="499.2" y="196.5" font-size="16.6">0.5 mm</text>
<line x1="464.2" y1="214.6" x2="496.2" y2="214.6" stroke="#9BBB59" stroke-width="2"/>
<path d="M475.3 214.6L479.8 210.1L484.3 214.6L479.8 219.1z" fill="#9BBB59" stroke="none"/>
<text x="499.2" y="220.0" font-size="16.6">1 mm</text>
<line x1="464.2" y1="238.1" x2="496.2" y2="238.1" stroke="#4F81BD" stroke-width="2"/>
<path d="M479.8 233.6L484.6 242.6L475.0 242.6z" fill="#4F81BD" stroke="none"/>
<text x="499.2" y="243.5" font-size="16.6">2 mm</text>
</g>
</svg>
</body></html>
